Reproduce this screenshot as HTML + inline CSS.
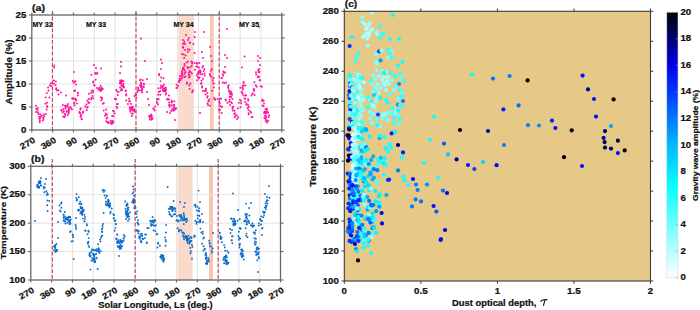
<!DOCTYPE html>
<html><head><meta charset="utf-8"><style>html,body{margin:0;padding:0;background:#fff;width:700px;height:310px;overflow:hidden}svg{display:block}</style></head>
<body><svg width="700" height="310" viewBox="0 0 700 310">
<rect width="700" height="310" fill="#fff"/>
<g font-family="Liberation Sans, sans-serif" font-weight="bold" fill="#111">
<rect x="178.5" y="15" width="15.300000000000011" height="115" fill="#f9dacb"/>
<rect x="210" y="15" width="3.6999999999999886" height="115" fill="#f5c6b0"/>
<line x1="52.63" y1="15.00" x2="52.63" y2="130.00" stroke="#e2e2e2" stroke-width="1" />
<line x1="73.47" y1="15.00" x2="73.47" y2="130.00" stroke="#e2e2e2" stroke-width="1" />
<line x1="94.30" y1="15.00" x2="94.30" y2="130.00" stroke="#e2e2e2" stroke-width="1" />
<line x1="115.13" y1="15.00" x2="115.13" y2="130.00" stroke="#e2e2e2" stroke-width="1" />
<line x1="135.97" y1="15.00" x2="135.97" y2="130.00" stroke="#e2e2e2" stroke-width="1" />
<line x1="156.80" y1="15.00" x2="156.80" y2="130.00" stroke="#e2e2e2" stroke-width="1" />
<line x1="177.63" y1="15.00" x2="177.63" y2="130.00" stroke="#e2e2e2" stroke-width="1" />
<line x1="198.47" y1="15.00" x2="198.47" y2="130.00" stroke="#e2e2e2" stroke-width="1" />
<line x1="219.30" y1="15.00" x2="219.30" y2="130.00" stroke="#e2e2e2" stroke-width="1" />
<line x1="240.13" y1="15.00" x2="240.13" y2="130.00" stroke="#e2e2e2" stroke-width="1" />
<line x1="260.97" y1="15.00" x2="260.97" y2="130.00" stroke="#e2e2e2" stroke-width="1" />
<line x1="31.80" y1="107.00" x2="281.80" y2="107.00" stroke="#e2e2e2" stroke-width="1" />
<line x1="31.80" y1="84.00" x2="281.80" y2="84.00" stroke="#e2e2e2" stroke-width="1" />
<line x1="31.80" y1="61.00" x2="281.80" y2="61.00" stroke="#e2e2e2" stroke-width="1" />
<line x1="31.80" y1="38.00" x2="281.80" y2="38.00" stroke="#e2e2e2" stroke-width="1" />
<g fill="#ff14a0"><circle cx="35.9" cy="105.8" r="1.0"/><circle cx="37.7" cy="108.0" r="1.0"/><circle cx="36.4" cy="108.8" r="1.0"/><circle cx="37.4" cy="109.9" r="1.0"/><circle cx="36.1" cy="112.0" r="1.0"/><circle cx="38.1" cy="112.2" r="1.0"/><circle cx="38.4" cy="114.1" r="1.0"/><circle cx="40.1" cy="114.3" r="1.0"/><circle cx="40.6" cy="116.6" r="1.0"/><circle cx="39.2" cy="116.8" r="1.0"/><circle cx="40.3" cy="118.1" r="1.0"/><circle cx="39.3" cy="118.7" r="1.0"/><circle cx="39.7" cy="122.2" r="1.0"/><circle cx="42.7" cy="120.6" r="1.0"/><circle cx="39.8" cy="120.4" r="1.0"/><circle cx="43.5" cy="118.9" r="1.0"/><circle cx="41.7" cy="115.6" r="1.0"/><circle cx="43.1" cy="117.6" r="1.0"/><circle cx="44.3" cy="116.2" r="1.0"/><circle cx="43.7" cy="114.5" r="1.0"/><circle cx="45.9" cy="114.0" r="1.0"/><circle cx="46.6" cy="109.5" r="1.0"/><circle cx="47.2" cy="107.1" r="1.0"/><circle cx="47.3" cy="105.9" r="1.0"/><circle cx="45.5" cy="103.7" r="1.0"/><circle cx="47.0" cy="102.7" r="1.0"/><circle cx="45.7" cy="97.5" r="1.0"/><circle cx="49.4" cy="97.5" r="1.0"/><circle cx="46.8" cy="93.0" r="1.0"/><circle cx="48.5" cy="90.4" r="1.0"/><circle cx="48.1" cy="87.6" r="1.0"/><circle cx="49.9" cy="85.4" r="1.0"/><circle cx="51.2" cy="86.0" r="1.0"/><circle cx="50.9" cy="83.2" r="1.0"/><circle cx="53.8" cy="80.5" r="1.0"/><circle cx="55.8" cy="81.5" r="1.0"/><circle cx="53.9" cy="83.7" r="1.0"/><circle cx="55.5" cy="85.3" r="1.0"/><circle cx="56.4" cy="88.3" r="1.0"/><circle cx="56.2" cy="89.3" r="1.0"/><circle cx="58.6" cy="90.3" r="1.0"/><circle cx="57.0" cy="90.5" r="1.0"/><circle cx="60.8" cy="92.5" r="1.0"/><circle cx="58.5" cy="94.4" r="1.0"/><circle cx="66.8" cy="110.9" r="1.0"/><circle cx="66.4" cy="105.8" r="1.0"/><circle cx="67.7" cy="115.1" r="1.0"/><circle cx="61.6" cy="110.7" r="1.0"/><circle cx="65.3" cy="115.0" r="1.0"/><circle cx="71.9" cy="109.3" r="1.0"/><circle cx="63.3" cy="116.4" r="1.0"/><circle cx="65.1" cy="105.7" r="1.0"/><circle cx="68.6" cy="110.9" r="1.0"/><circle cx="63.4" cy="109.3" r="1.0"/><circle cx="68.7" cy="107.9" r="1.0"/><circle cx="61.2" cy="110.0" r="1.0"/><circle cx="62.7" cy="112.4" r="1.0"/><circle cx="62.8" cy="105.1" r="1.0"/><circle cx="71.1" cy="108.0" r="1.0"/><circle cx="63.9" cy="111.2" r="1.0"/><circle cx="68.7" cy="113.2" r="1.0"/><circle cx="70.0" cy="107.0" r="1.0"/><circle cx="65.5" cy="108.5" r="1.0"/><circle cx="66.6" cy="111.7" r="1.0"/><circle cx="68.0" cy="104.0" r="1.0"/><circle cx="64.9" cy="113.8" r="1.0"/><circle cx="68.6" cy="109.1" r="1.0"/><circle cx="65.8" cy="107.0" r="1.0"/><circle cx="69.2" cy="110.3" r="1.0"/><circle cx="64.5" cy="117.0" r="1.0"/><circle cx="68.5" cy="112.5" r="1.0"/><circle cx="67.6" cy="105.9" r="1.0"/><circle cx="65.2" cy="105.8" r="1.0"/><circle cx="64.6" cy="116.7" r="1.0"/><circle cx="66.0" cy="95.6" r="1.0"/><circle cx="74.0" cy="72.0" r="1.0"/><circle cx="74.9" cy="81.8" r="1.0"/><circle cx="72.8" cy="81.1" r="1.0"/><circle cx="75.5" cy="81.3" r="1.0"/><circle cx="73.6" cy="82.7" r="1.0"/><circle cx="76.0" cy="84.4" r="1.0"/><circle cx="75.0" cy="90.6" r="1.0"/><circle cx="72.5" cy="98.2" r="1.0"/><circle cx="77.9" cy="95.6" r="1.0"/><circle cx="74.2" cy="91.0" r="1.0"/><circle cx="73.3" cy="99.1" r="1.0"/><circle cx="74.5" cy="105.3" r="1.0"/><circle cx="73.9" cy="103.4" r="1.0"/><circle cx="72.3" cy="98.4" r="1.0"/><circle cx="76.0" cy="100.4" r="1.0"/><circle cx="74.9" cy="98.4" r="1.0"/><circle cx="77.8" cy="92.7" r="1.0"/><circle cx="75.9" cy="99.3" r="1.0"/><circle cx="77.9" cy="92.9" r="1.0"/><circle cx="74.9" cy="90.8" r="1.0"/><circle cx="76.9" cy="103.6" r="1.0"/><circle cx="74.4" cy="102.8" r="1.0"/><circle cx="80.7" cy="108.6" r="1.0"/><circle cx="80.3" cy="109.5" r="1.0"/><circle cx="80.0" cy="113.0" r="1.0"/><circle cx="79.5" cy="112.9" r="1.0"/><circle cx="79.5" cy="112.0" r="1.0"/><circle cx="83.0" cy="112.7" r="1.0"/><circle cx="80.5" cy="116.5" r="1.0"/><circle cx="81.2" cy="114.6" r="1.0"/><circle cx="80.7" cy="116.4" r="1.0"/><circle cx="80.8" cy="116.1" r="1.0"/><circle cx="81.6" cy="118.8" r="1.0"/><circle cx="81.7" cy="118.9" r="1.0"/><circle cx="83.3" cy="111.5" r="1.0"/><circle cx="86.8" cy="110.2" r="1.0"/><circle cx="87.0" cy="107.7" r="1.0"/><circle cx="87.7" cy="107.1" r="1.0"/><circle cx="85.2" cy="106.4" r="1.0"/><circle cx="88.5" cy="102.6" r="1.0"/><circle cx="86.5" cy="104.6" r="1.0"/><circle cx="89.4" cy="102.7" r="1.0"/><circle cx="87.3" cy="100.6" r="1.0"/><circle cx="88.4" cy="102.4" r="1.0"/><circle cx="88.9" cy="99.0" r="1.0"/><circle cx="91.3" cy="99.2" r="1.0"/><circle cx="91.4" cy="98.1" r="1.0"/><circle cx="93.2" cy="98.2" r="1.0"/><circle cx="88.9" cy="93.8" r="1.0"/><circle cx="92.5" cy="96.0" r="1.0"/><circle cx="91.2" cy="93.1" r="1.0"/><circle cx="93.0" cy="92.2" r="1.0"/><circle cx="91.6" cy="90.6" r="1.0"/><circle cx="93.0" cy="90.7" r="1.0"/><circle cx="91.4" cy="74.7" r="1.0"/><circle cx="95.4" cy="73.1" r="1.0"/><circle cx="95.2" cy="73.7" r="1.0"/><circle cx="97.2" cy="73.3" r="1.0"/><circle cx="97.3" cy="73.3" r="1.0"/><circle cx="96.7" cy="73.7" r="1.0"/><circle cx="95.6" cy="79.7" r="1.0"/><circle cx="93.4" cy="81.5" r="1.0"/><circle cx="93.1" cy="82.6" r="1.0"/><circle cx="94.1" cy="85.2" r="1.0"/><circle cx="94.6" cy="85.5" r="1.0"/><circle cx="96.9" cy="88.1" r="1.0"/><circle cx="100.7" cy="86.1" r="1.0"/><circle cx="100.7" cy="90.7" r="1.0"/><circle cx="101.8" cy="88.0" r="1.0"/><circle cx="98.6" cy="89.7" r="1.0"/><circle cx="99.5" cy="87.7" r="1.0"/><circle cx="99.0" cy="88.4" r="1.0"/><circle cx="101.3" cy="88.4" r="1.0"/><circle cx="101.1" cy="90.4" r="1.0"/><circle cx="101.9" cy="89.4" r="1.0"/><circle cx="102.8" cy="89.0" r="1.0"/><circle cx="100.6" cy="89.9" r="1.0"/><circle cx="100.0" cy="90.2" r="1.0"/><circle cx="102.1" cy="97.9" r="1.0"/><circle cx="100.9" cy="97.3" r="1.0"/><circle cx="101.9" cy="98.9" r="1.0"/><circle cx="101.3" cy="100.3" r="1.0"/><circle cx="103.8" cy="102.9" r="1.0"/><circle cx="102.8" cy="103.8" r="1.0"/><circle cx="106.1" cy="109.4" r="1.0"/><circle cx="103.7" cy="110.6" r="1.0"/><circle cx="106.4" cy="114.5" r="1.0"/><circle cx="105.6" cy="113.5" r="1.0"/><circle cx="106.8" cy="114.7" r="1.0"/><circle cx="105.0" cy="115.7" r="1.0"/><circle cx="107.3" cy="117.6" r="1.0"/><circle cx="106.7" cy="118.6" r="1.0"/><circle cx="106.2" cy="121.2" r="1.0"/><circle cx="107.4" cy="122.1" r="1.0"/><circle cx="111.4" cy="123.7" r="1.0"/><circle cx="112.8" cy="121.2" r="1.0"/><circle cx="110.7" cy="120.8" r="1.0"/><circle cx="112.5" cy="121.5" r="1.0"/><circle cx="111.0" cy="122.4" r="1.0"/><circle cx="113.0" cy="122.7" r="1.0"/><circle cx="113.3" cy="121.8" r="1.0"/><circle cx="108.3" cy="123.1" r="1.0"/><circle cx="112.1" cy="123.2" r="1.0"/><circle cx="112.7" cy="121.2" r="1.0"/><circle cx="108.4" cy="122.9" r="1.0"/><circle cx="111.5" cy="122.9" r="1.0"/><circle cx="111.7" cy="123.8" r="1.0"/><circle cx="108.7" cy="122.2" r="1.0"/><circle cx="113.7" cy="116.2" r="1.0"/><circle cx="112.1" cy="116.0" r="1.0"/><circle cx="114.6" cy="113.6" r="1.0"/><circle cx="113.0" cy="110.8" r="1.0"/><circle cx="113.9" cy="111.4" r="1.0"/><circle cx="116.6" cy="106.7" r="1.0"/><circle cx="117.0" cy="108.1" r="1.0"/><circle cx="116.9" cy="103.9" r="1.0"/><circle cx="117.8" cy="104.1" r="1.0"/><circle cx="115.1" cy="99.3" r="1.0"/><circle cx="116.2" cy="99.3" r="1.0"/><circle cx="115.2" cy="98.6" r="1.0"/><circle cx="117.7" cy="95.1" r="1.0"/><circle cx="117.3" cy="91.6" r="1.0"/><circle cx="118.5" cy="91.9" r="1.0"/><circle cx="116.2" cy="90.1" r="1.0"/><circle cx="120.7" cy="90.2" r="1.0"/><circle cx="120.7" cy="81.5" r="1.0"/><circle cx="119.8" cy="83.0" r="1.0"/><circle cx="121.4" cy="85.6" r="1.0"/><circle cx="121.9" cy="80.6" r="1.0"/><circle cx="122.7" cy="85.7" r="1.0"/><circle cx="122.2" cy="90.2" r="1.0"/><circle cx="120.1" cy="87.4" r="1.0"/><circle cx="121.7" cy="83.4" r="1.0"/><circle cx="121.0" cy="81.4" r="1.0"/><circle cx="122.4" cy="81.0" r="1.0"/><circle cx="123.4" cy="81.2" r="1.0"/><circle cx="122.6" cy="86.0" r="1.0"/><circle cx="123.4" cy="83.9" r="1.0"/><circle cx="121.3" cy="80.5" r="1.0"/><circle cx="120.1" cy="80.6" r="1.0"/><circle cx="121.7" cy="88.7" r="1.0"/><circle cx="123.1" cy="86.6" r="1.0"/><circle cx="121.2" cy="82.3" r="1.0"/><circle cx="123.4" cy="87.1" r="1.0"/><circle cx="122.6" cy="85.7" r="1.0"/><circle cx="123.3" cy="86.1" r="1.0"/><circle cx="120.2" cy="83.5" r="1.0"/><circle cx="120.5" cy="82.5" r="1.0"/><circle cx="124.0" cy="87.5" r="1.0"/><circle cx="120.0" cy="73.0" r="1.0"/><circle cx="125.7" cy="90.6" r="1.0"/><circle cx="125.7" cy="91.0" r="1.0"/><circle cx="126.2" cy="94.3" r="1.0"/><circle cx="126.2" cy="95.6" r="1.0"/><circle cx="129.0" cy="98.7" r="1.0"/><circle cx="126.2" cy="100.4" r="1.0"/><circle cx="129.3" cy="101.5" r="1.0"/><circle cx="129.8" cy="101.0" r="1.0"/><circle cx="127.9" cy="104.1" r="1.0"/><circle cx="130.9" cy="103.8" r="1.0"/><circle cx="134.4" cy="109.3" r="1.0"/><circle cx="133.8" cy="109.7" r="1.0"/><circle cx="132.3" cy="108.9" r="1.0"/><circle cx="132.5" cy="106.7" r="1.0"/><circle cx="132.6" cy="107.5" r="1.0"/><circle cx="131.2" cy="107.2" r="1.0"/><circle cx="130.8" cy="108.1" r="1.0"/><circle cx="130.4" cy="111.7" r="1.0"/><circle cx="132.7" cy="113.5" r="1.0"/><circle cx="131.8" cy="116.0" r="1.0"/><circle cx="131.0" cy="108.0" r="1.0"/><circle cx="132.9" cy="110.4" r="1.0"/><circle cx="134.6" cy="110.8" r="1.0"/><circle cx="134.7" cy="111.8" r="1.0"/><circle cx="133.8" cy="110.5" r="1.0"/><circle cx="132.3" cy="107.3" r="1.0"/><circle cx="129.6" cy="107.6" r="1.0"/><circle cx="130.9" cy="110.0" r="1.0"/><circle cx="132.0" cy="113.7" r="1.0"/><circle cx="129.8" cy="109.4" r="1.0"/><circle cx="134.5" cy="96.0" r="1.0"/><circle cx="136.2" cy="97.6" r="1.0"/><circle cx="135.9" cy="94.7" r="1.0"/><circle cx="135.6" cy="94.1" r="1.0"/><circle cx="137.5" cy="92.0" r="1.0"/><circle cx="137.8" cy="90.6" r="1.0"/><circle cx="138.3" cy="89.1" r="1.0"/><circle cx="139.8" cy="90.6" r="1.0"/><circle cx="140.9" cy="87.3" r="1.0"/><circle cx="138.0" cy="87.6" r="1.0"/><circle cx="140.1" cy="85.6" r="1.0"/><circle cx="141.2" cy="85.3" r="1.0"/><circle cx="141.1" cy="82.8" r="1.0"/><circle cx="140.1" cy="80.2" r="1.0"/><circle cx="140.6" cy="79.4" r="1.0"/><circle cx="141.9" cy="90.7" r="1.0"/><circle cx="141.9" cy="86.7" r="1.0"/><circle cx="141.0" cy="83.5" r="1.0"/><circle cx="142.3" cy="89.2" r="1.0"/><circle cx="142.8" cy="80.2" r="1.0"/><circle cx="141.0" cy="83.5" r="1.0"/><circle cx="144.1" cy="83.9" r="1.0"/><circle cx="143.5" cy="86.4" r="1.0"/><circle cx="143.6" cy="83.7" r="1.0"/><circle cx="142.2" cy="92.4" r="1.0"/><circle cx="143.8" cy="87.0" r="1.0"/><circle cx="142.0" cy="88.6" r="1.0"/><circle cx="140.9" cy="83.9" r="1.0"/><circle cx="141.3" cy="90.5" r="1.0"/><circle cx="147.0" cy="79.0" r="1.0"/><circle cx="147.0" cy="92.0" r="1.0"/><circle cx="148.0" cy="99.0" r="1.0"/><circle cx="149.0" cy="105.0" r="1.0"/><circle cx="149.1" cy="116.1" r="1.0"/><circle cx="151.7" cy="116.6" r="1.0"/><circle cx="151.7" cy="118.0" r="1.0"/><circle cx="149.6" cy="117.5" r="1.0"/><circle cx="151.5" cy="115.2" r="1.0"/><circle cx="149.8" cy="119.2" r="1.0"/><circle cx="150.3" cy="116.0" r="1.0"/><circle cx="152.3" cy="118.8" r="1.0"/><circle cx="151.3" cy="115.4" r="1.0"/><circle cx="152.4" cy="118.4" r="1.0"/><circle cx="150.9" cy="114.8" r="1.0"/><circle cx="151.1" cy="119.7" r="1.0"/><circle cx="154.7" cy="110.6" r="1.0"/><circle cx="153.3" cy="108.4" r="1.0"/><circle cx="153.9" cy="109.0" r="1.0"/><circle cx="155.1" cy="106.5" r="1.0"/><circle cx="158.0" cy="104.6" r="1.0"/><circle cx="157.3" cy="103.2" r="1.0"/><circle cx="156.8" cy="102.0" r="1.0"/><circle cx="157.6" cy="99.4" r="1.0"/><circle cx="158.6" cy="99.3" r="1.0"/><circle cx="156.9" cy="99.0" r="1.0"/><circle cx="160.3" cy="94.7" r="1.0"/><circle cx="158.1" cy="94.7" r="1.0"/><circle cx="158.9" cy="92.1" r="1.0"/><circle cx="160.1" cy="91.0" r="1.0"/><circle cx="158.5" cy="88.3" r="1.0"/><circle cx="160.6" cy="87.9" r="1.0"/><circle cx="161.0" cy="85.8" r="1.0"/><circle cx="160.5" cy="81.2" r="1.0"/><circle cx="158.9" cy="75.3" r="1.0"/><circle cx="159.2" cy="73.9" r="1.0"/><circle cx="161.2" cy="77.5" r="1.0"/><circle cx="163.4" cy="78.3" r="1.0"/><circle cx="163.8" cy="84.6" r="1.0"/><circle cx="164.9" cy="90.8" r="1.0"/><circle cx="164.1" cy="88.5" r="1.0"/><circle cx="162.0" cy="86.7" r="1.0"/><circle cx="164.4" cy="90.2" r="1.0"/><circle cx="163.2" cy="90.4" r="1.0"/><circle cx="164.4" cy="88.4" r="1.0"/><circle cx="162.6" cy="89.4" r="1.0"/><circle cx="162.3" cy="87.4" r="1.0"/><circle cx="165.9" cy="87.8" r="1.0"/><circle cx="163.3" cy="86.0" r="1.0"/><circle cx="166.0" cy="89.5" r="1.0"/><circle cx="166.0" cy="89.7" r="1.0"/><circle cx="163.7" cy="91.0" r="1.0"/><circle cx="163.6" cy="91.3" r="1.0"/><circle cx="165.4" cy="91.1" r="1.0"/><circle cx="164.0" cy="91.2" r="1.0"/><circle cx="165.4" cy="91.2" r="1.0"/><circle cx="166.1" cy="93.2" r="1.0"/><circle cx="165.8" cy="94.4" r="1.0"/><circle cx="169.0" cy="95.4" r="1.0"/><circle cx="169.0" cy="99.4" r="1.0"/><circle cx="167.0" cy="99.5" r="1.0"/><circle cx="167.9" cy="98.8" r="1.0"/><circle cx="169.1" cy="102.6" r="1.0"/><circle cx="171.6" cy="100.8" r="1.0"/><circle cx="171.8" cy="101.9" r="1.0"/><circle cx="173.5" cy="105.1" r="1.0"/><circle cx="174.4" cy="110.0" r="1.0"/><circle cx="173.5" cy="110.8" r="1.0"/><circle cx="173.1" cy="108.2" r="1.0"/><circle cx="175.8" cy="108.6" r="1.0"/><circle cx="174.2" cy="107.1" r="1.0"/><circle cx="174.2" cy="104.9" r="1.0"/><circle cx="174.3" cy="109.8" r="1.0"/><circle cx="175.9" cy="108.4" r="1.0"/><circle cx="174.4" cy="101.2" r="1.0"/><circle cx="171.6" cy="105.5" r="1.0"/><circle cx="171.5" cy="102.6" r="1.0"/><circle cx="172.0" cy="109.7" r="1.0"/><circle cx="171.1" cy="110.9" r="1.0"/><circle cx="169.1" cy="105.1" r="1.0"/><circle cx="174.8" cy="108.9" r="1.0"/><circle cx="169.6" cy="106.7" r="1.0"/><circle cx="169.8" cy="104.8" r="1.0"/><circle cx="167.0" cy="112.0" r="1.0"/><circle cx="170.0" cy="113.0" r="1.0"/><circle cx="175.0" cy="120.0" r="1.0"/><circle cx="176.4" cy="87.9" r="1.0"/><circle cx="177.0" cy="87.8" r="1.0"/><circle cx="178.1" cy="86.1" r="1.0"/><circle cx="176.6" cy="84.7" r="1.0"/><circle cx="179.2" cy="82.2" r="1.0"/><circle cx="178.9" cy="80.9" r="1.0"/><circle cx="180.5" cy="80.2" r="1.0"/><circle cx="179.6" cy="78.5" r="1.0"/><circle cx="180.0" cy="79.7" r="1.0"/><circle cx="181.7" cy="78.4" r="1.0"/><circle cx="181.9" cy="74.2" r="1.0"/><circle cx="181.9" cy="73.0" r="1.0"/><circle cx="189.0" cy="74.9" r="1.0"/><circle cx="189.3" cy="70.7" r="1.0"/><circle cx="182.3" cy="72.2" r="1.0"/><circle cx="188.6" cy="73.1" r="1.0"/><circle cx="184.4" cy="74.0" r="1.0"/><circle cx="189.5" cy="76.7" r="1.0"/><circle cx="190.8" cy="72.3" r="1.0"/><circle cx="180.6" cy="76.0" r="1.0"/><circle cx="180.2" cy="76.1" r="1.0"/><circle cx="182.5" cy="75.2" r="1.0"/><circle cx="189.6" cy="75.2" r="1.0"/><circle cx="184.4" cy="77.3" r="1.0"/><circle cx="185.5" cy="72.1" r="1.0"/><circle cx="185.6" cy="76.6" r="1.0"/><circle cx="181.9" cy="71.0" r="1.0"/><circle cx="191.9" cy="73.4" r="1.0"/><circle cx="185.2" cy="72.5" r="1.0"/><circle cx="182.4" cy="76.9" r="1.0"/><circle cx="190.2" cy="72.0" r="1.0"/><circle cx="189.1" cy="77.4" r="1.0"/><circle cx="187.1" cy="82.6" r="1.0"/><circle cx="186.8" cy="83.8" r="1.0"/><circle cx="190.5" cy="83.5" r="1.0"/><circle cx="189.3" cy="85.3" r="1.0"/><circle cx="189.6" cy="89.0" r="1.0"/><circle cx="192.5" cy="90.7" r="1.0"/><circle cx="193.2" cy="90.5" r="1.0"/><circle cx="192.1" cy="92.3" r="1.0"/><circle cx="200.3" cy="73.9" r="1.0"/><circle cx="198.1" cy="74.0" r="1.0"/><circle cx="200.8" cy="72.0" r="1.0"/><circle cx="197.0" cy="80.2" r="1.0"/><circle cx="202.2" cy="74.3" r="1.0"/><circle cx="197.8" cy="77.0" r="1.0"/><circle cx="199.5" cy="77.6" r="1.0"/><circle cx="198.8" cy="78.5" r="1.0"/><circle cx="200.2" cy="70.3" r="1.0"/><circle cx="201.5" cy="80.5" r="1.0"/><circle cx="199.9" cy="71.9" r="1.0"/><circle cx="198.3" cy="72.3" r="1.0"/><circle cx="203.0" cy="78.8" r="1.0"/><circle cx="198.2" cy="73.6" r="1.0"/><circle cx="196.7" cy="75.3" r="1.0"/><circle cx="201.0" cy="83.7" r="1.0"/><circle cx="201.5" cy="82.9" r="1.0"/><circle cx="202.0" cy="87.5" r="1.0"/><circle cx="202.2" cy="86.3" r="1.0"/><circle cx="203.0" cy="90.9" r="1.0"/><circle cx="200.0" cy="113.0" r="1.0"/><circle cx="206.0" cy="88.7" r="1.0"/><circle cx="205.0" cy="91.3" r="1.0"/><circle cx="206.2" cy="90.6" r="1.0"/><circle cx="204.7" cy="90.8" r="1.0"/><circle cx="207.3" cy="93.0" r="1.0"/><circle cx="205.6" cy="94.4" r="1.0"/><circle cx="207.2" cy="97.6" r="1.0"/><circle cx="207.6" cy="96.3" r="1.0"/><circle cx="209.2" cy="99.6" r="1.0"/><circle cx="208.6" cy="101.6" r="1.0"/><circle cx="208.4" cy="101.1" r="1.0"/><circle cx="207.5" cy="103.5" r="1.0"/><circle cx="209.9" cy="105.7" r="1.0"/><circle cx="208.0" cy="105.0" r="1.0"/><circle cx="210.9" cy="70.7" r="1.0"/><circle cx="209.8" cy="74.1" r="1.0"/><circle cx="210.1" cy="75.5" r="1.0"/><circle cx="211.4" cy="76.7" r="1.0"/><circle cx="213.6" cy="77.9" r="1.0"/><circle cx="212.7" cy="80.2" r="1.0"/><circle cx="213.3" cy="83.2" r="1.0"/><circle cx="213.9" cy="83.5" r="1.0"/><circle cx="214.0" cy="87.6" r="1.0"/><circle cx="212.3" cy="90.7" r="1.0"/><circle cx="214.4" cy="98.1" r="1.0"/><circle cx="214.5" cy="99.0" r="1.0"/><circle cx="215.3" cy="99.8" r="1.0"/><circle cx="220.0" cy="98.5" r="1.0"/><circle cx="217.7" cy="98.9" r="1.0"/><circle cx="221.2" cy="98.7" r="1.0"/><circle cx="219.9" cy="103.0" r="1.0"/><circle cx="219.0" cy="102.2" r="1.0"/><circle cx="220.9" cy="105.9" r="1.0"/><circle cx="221.9" cy="106.9" r="1.0"/><circle cx="218.9" cy="109.2" r="1.0"/><circle cx="219.9" cy="109.8" r="1.0"/><circle cx="221.7" cy="112.9" r="1.0"/><circle cx="221.4" cy="78.1" r="1.0"/><circle cx="221.8" cy="78.3" r="1.0"/><circle cx="223.2" cy="75.8" r="1.0"/><circle cx="222.9" cy="74.0" r="1.0"/><circle cx="225.0" cy="72.7" r="1.0"/><circle cx="223.9" cy="72.0" r="1.0"/><circle cx="223.4" cy="71.5" r="1.0"/><circle cx="222.8" cy="82.5" r="1.0"/><circle cx="226.1" cy="82.5" r="1.0"/><circle cx="224.3" cy="82.9" r="1.0"/><circle cx="228.0" cy="86.5" r="1.0"/><circle cx="228.7" cy="85.2" r="1.0"/><circle cx="228.3" cy="88.1" r="1.0"/><circle cx="229.3" cy="101.7" r="1.0"/><circle cx="229.7" cy="99.8" r="1.0"/><circle cx="229.7" cy="97.1" r="1.0"/><circle cx="228.8" cy="91.3" r="1.0"/><circle cx="229.8" cy="93.0" r="1.0"/><circle cx="230.5" cy="96.5" r="1.0"/><circle cx="230.3" cy="94.2" r="1.0"/><circle cx="226.0" cy="100.6" r="1.0"/><circle cx="231.6" cy="93.4" r="1.0"/><circle cx="231.0" cy="102.3" r="1.0"/><circle cx="231.3" cy="96.7" r="1.0"/><circle cx="232.3" cy="99.0" r="1.0"/><circle cx="225.5" cy="99.4" r="1.0"/><circle cx="229.0" cy="90.3" r="1.0"/><circle cx="227.5" cy="103.1" r="1.0"/><circle cx="230.0" cy="104.9" r="1.0"/><circle cx="231.0" cy="93.0" r="1.0"/><circle cx="232.0" cy="94.7" r="1.0"/><circle cx="230.9" cy="91.6" r="1.0"/><circle cx="231.9" cy="103.1" r="1.0"/><circle cx="233.2" cy="106.8" r="1.0"/><circle cx="232.5" cy="107.3" r="1.0"/><circle cx="232.6" cy="108.5" r="1.0"/><circle cx="232.9" cy="110.6" r="1.0"/><circle cx="234.5" cy="110.7" r="1.0"/><circle cx="234.3" cy="114.0" r="1.0"/><circle cx="236.8" cy="115.3" r="1.0"/><circle cx="235.0" cy="113.2" r="1.0"/><circle cx="234.6" cy="117.2" r="1.0"/><circle cx="235.6" cy="115.8" r="1.0"/><circle cx="238.1" cy="117.3" r="1.0"/><circle cx="237.1" cy="119.1" r="1.0"/><circle cx="237.9" cy="108.5" r="1.0"/><circle cx="240.5" cy="107.2" r="1.0"/><circle cx="241.1" cy="103.3" r="1.0"/><circle cx="238.8" cy="102.8" r="1.0"/><circle cx="241.0" cy="100.7" r="1.0"/><circle cx="240.0" cy="100.1" r="1.0"/><circle cx="242.5" cy="88.2" r="1.0"/><circle cx="240.4" cy="87.7" r="1.0"/><circle cx="242.6" cy="87.0" r="1.0"/><circle cx="243.6" cy="85.6" r="1.0"/><circle cx="242.8" cy="85.8" r="1.0"/><circle cx="245.3" cy="85.5" r="1.0"/><circle cx="243.5" cy="82.1" r="1.0"/><circle cx="243.6" cy="83.0" r="1.0"/><circle cx="243.0" cy="89.6" r="1.0"/><circle cx="241.7" cy="91.7" r="1.0"/><circle cx="242.2" cy="92.7" r="1.0"/><circle cx="242.6" cy="93.8" r="1.0"/><circle cx="245.4" cy="95.5" r="1.0"/><circle cx="246.0" cy="95.2" r="1.0"/><circle cx="243.6" cy="95.4" r="1.0"/><circle cx="244.5" cy="98.5" r="1.0"/><circle cx="245.1" cy="98.7" r="1.0"/><circle cx="248.2" cy="99.2" r="1.0"/><circle cx="245.2" cy="102.0" r="1.0"/><circle cx="248.3" cy="100.4" r="1.0"/><circle cx="248.1" cy="104.9" r="1.0"/><circle cx="246.5" cy="104.0" r="1.0"/><circle cx="246.5" cy="104.8" r="1.0"/><circle cx="248.9" cy="106.9" r="1.0"/><circle cx="247.6" cy="107.9" r="1.0"/><circle cx="250.1" cy="111.4" r="1.0"/><circle cx="248.4" cy="110.1" r="1.0"/><circle cx="248.6" cy="113.2" r="1.0"/><circle cx="251.2" cy="112.4" r="1.0"/><circle cx="248.7" cy="114.2" r="1.0"/><circle cx="251.7" cy="117.3" r="1.0"/><circle cx="252.4" cy="117.1" r="1.0"/><circle cx="251.5" cy="95.6" r="1.0"/><circle cx="254.6" cy="95.1" r="1.0"/><circle cx="252.6" cy="93.2" r="1.0"/><circle cx="252.6" cy="93.9" r="1.0"/><circle cx="254.1" cy="90.8" r="1.0"/><circle cx="253.6" cy="89.3" r="1.0"/><circle cx="254.1" cy="89.2" r="1.0"/><circle cx="256.6" cy="86.8" r="1.0"/><circle cx="255.8" cy="85.2" r="1.0"/><circle cx="254.4" cy="82.3" r="1.0"/><circle cx="257.6" cy="76.7" r="1.0"/><circle cx="256.1" cy="74.5" r="1.0"/><circle cx="256.0" cy="72.3" r="1.0"/><circle cx="259.4" cy="72.2" r="1.0"/><circle cx="259.3" cy="71.5" r="1.0"/><circle cx="258.6" cy="72.0" r="1.0"/><circle cx="258.1" cy="70.3" r="1.0"/><circle cx="258.8" cy="76.4" r="1.0"/><circle cx="258.7" cy="77.3" r="1.0"/><circle cx="259.9" cy="79.9" r="1.0"/><circle cx="259.7" cy="80.5" r="1.0"/><circle cx="260.6" cy="86.2" r="1.0"/><circle cx="262.0" cy="86.7" r="1.0"/><circle cx="262.4" cy="99.6" r="1.0"/><circle cx="262.2" cy="101.0" r="1.0"/><circle cx="263.7" cy="100.7" r="1.0"/><circle cx="264.0" cy="103.4" r="1.0"/><circle cx="262.5" cy="105.5" r="1.0"/><circle cx="263.5" cy="106.0" r="1.0"/><circle cx="265.5" cy="109.3" r="1.0"/><circle cx="264.7" cy="111.6" r="1.0"/><circle cx="266.8" cy="112.1" r="1.0"/><circle cx="265.8" cy="115.7" r="1.0"/><circle cx="265.2" cy="115.8" r="1.0"/><circle cx="266.2" cy="117.2" r="1.0"/><circle cx="266.8" cy="120.5" r="1.0"/><circle cx="268.2" cy="120.8" r="1.0"/><circle cx="265.7" cy="119.3" r="1.0"/><circle cx="268.2" cy="112.4" r="1.0"/><circle cx="266.7" cy="112.1" r="1.0"/><circle cx="267.1" cy="111.5" r="1.0"/><circle cx="264.4" cy="112.3" r="1.0"/><circle cx="264.5" cy="112.8" r="1.0"/><circle cx="266.0" cy="112.9" r="1.0"/><circle cx="265.6" cy="121.3" r="1.0"/><circle cx="266.9" cy="108.8" r="1.0"/><circle cx="266.8" cy="109.8" r="1.0"/><circle cx="267.2" cy="122.4" r="1.0"/><circle cx="266.7" cy="113.3" r="1.0"/><circle cx="265.4" cy="112.1" r="1.0"/><circle cx="268.6" cy="116.9" r="1.0"/><circle cx="269.2" cy="115.3" r="1.0"/><circle cx="264.4" cy="118.0" r="1.0"/><circle cx="264.4" cy="113.5" r="1.0"/><circle cx="264.8" cy="117.5" r="1.0"/><circle cx="195.0" cy="32.0" r="1.0"/><circle cx="204.0" cy="32.0" r="1.0"/><circle cx="194.6" cy="37.0" r="1.0"/><circle cx="227.0" cy="29.0" r="1.0"/><circle cx="259.0" cy="27.0" r="1.0"/><circle cx="186.0" cy="35.0" r="1.0"/><circle cx="183.0" cy="40.0" r="1.0"/><circle cx="188.0" cy="40.0" r="1.0"/><circle cx="184.0" cy="43.0" r="1.0"/><circle cx="183.0" cy="47.0" r="1.0"/><circle cx="185.0" cy="50.0" r="1.0"/><circle cx="188.0" cy="52.0" r="1.0"/><circle cx="182.0" cy="54.0" r="1.0"/><circle cx="193.4" cy="44.0" r="1.0"/><circle cx="194.6" cy="53.0" r="1.0"/><circle cx="202.0" cy="52.0" r="1.0"/><circle cx="210.0" cy="47.0" r="1.0"/><circle cx="211.0" cy="56.0" r="1.0"/><circle cx="225.0" cy="55.0" r="1.0"/><circle cx="227.0" cy="58.0" r="1.0"/><circle cx="244.6" cy="56.6" r="1.0"/><circle cx="258.0" cy="56.0" r="1.0"/><circle cx="260.0" cy="58.0" r="1.0"/><circle cx="161.0" cy="59.4" r="1.0"/><circle cx="162.0" cy="63.0" r="1.0"/><circle cx="161.0" cy="69.0" r="1.0"/><circle cx="145.0" cy="61.0" r="1.0"/><circle cx="203.0" cy="58.0" r="1.0"/><circle cx="203.0" cy="66.0" r="1.0"/><circle cx="212.0" cy="61.0" r="1.0"/><circle cx="212.0" cy="69.0" r="1.0"/><circle cx="225.0" cy="67.0" r="1.0"/><circle cx="242.0" cy="67.4" r="1.0"/><circle cx="258.0" cy="61.0" r="1.0"/><circle cx="260.0" cy="65.0" r="1.0"/><circle cx="259.0" cy="69.0" r="1.0"/><circle cx="195.0" cy="69.7" r="1.0"/><circle cx="187.4" cy="66.9" r="1.0"/><circle cx="191.8" cy="66.1" r="1.0"/><circle cx="190.4" cy="67.2" r="1.0"/><circle cx="191.3" cy="61.5" r="1.0"/><circle cx="197.1" cy="63.7" r="1.0"/><circle cx="184.5" cy="64.0" r="1.0"/><circle cx="197.4" cy="66.7" r="1.0"/><circle cx="199.1" cy="67.4" r="1.0"/><circle cx="184.6" cy="69.9" r="1.0"/><circle cx="196.3" cy="66.4" r="1.0"/><circle cx="192.2" cy="63.6" r="1.0"/><circle cx="187.9" cy="68.1" r="1.0"/><circle cx="183.3" cy="69.5" r="1.0"/><circle cx="196.7" cy="62.9" r="1.0"/><circle cx="183.2" cy="69.5" r="1.0"/><circle cx="187.9" cy="67.6" r="1.0"/><circle cx="186.6" cy="62.6" r="1.0"/><circle cx="184.5" cy="65.7" r="1.0"/><circle cx="183.6" cy="67.9" r="1.0"/><circle cx="183.1" cy="67.7" r="1.0"/><circle cx="187.9" cy="61.5" r="1.0"/><circle cx="183.0" cy="68.5" r="1.0"/><circle cx="194.6" cy="63.3" r="1.0"/><circle cx="192.2" cy="62.1" r="1.0"/><circle cx="141.0" cy="38.4" r="1.0"/><circle cx="54.4" cy="65.4" r="1.0"/><circle cx="54.0" cy="67.4" r="1.0"/><circle cx="94.0" cy="65.0" r="1.0"/><circle cx="96.0" cy="68.0" r="1.0"/><circle cx="101.0" cy="68.6" r="1.0"/><circle cx="121.0" cy="62.0" r="1.0"/><circle cx="121.0" cy="66.6" r="1.0"/><circle cx="185.7" cy="55.6" r="1.0"/><circle cx="182.9" cy="47.2" r="1.0"/><circle cx="190.0" cy="42.4" r="1.0"/><circle cx="188.8" cy="37.9" r="1.0"/><circle cx="183.7" cy="54.6" r="1.0"/><circle cx="189.7" cy="43.0" r="1.0"/><circle cx="185.1" cy="44.0" r="1.0"/><circle cx="182.9" cy="43.9" r="1.0"/><circle cx="189.4" cy="49.8" r="1.0"/><circle cx="189.4" cy="49.7" r="1.0"/><circle cx="187.8" cy="49.3" r="1.0"/><circle cx="183.1" cy="47.8" r="1.0"/><circle cx="184.4" cy="41.5" r="1.0"/><circle cx="184.2" cy="58.1" r="1.0"/><circle cx="204.6" cy="75.4" r="1.0"/><circle cx="199.5" cy="63.0" r="1.0"/><circle cx="197.4" cy="63.3" r="1.0"/><circle cx="204.5" cy="73.5" r="1.0"/><circle cx="202.4" cy="67.4" r="1.0"/><circle cx="198.8" cy="71.2" r="1.0"/><circle cx="203.7" cy="70.9" r="1.0"/><circle cx="204.4" cy="68.9" r="1.0"/></g>
<line x1="52.40" y1="11.00" x2="52.40" y2="130.00" stroke="#c8365a" stroke-width="1.1" stroke-dasharray="3.8 2"/>
<line x1="136.00" y1="11.00" x2="136.00" y2="130.00" stroke="#c8365a" stroke-width="1.1" stroke-dasharray="3.8 2"/>
<line x1="219.20" y1="11.00" x2="219.20" y2="130.00" stroke="#c8365a" stroke-width="1.1" stroke-dasharray="3.8 2"/>
<rect x="31.8" y="15" width="250.0" height="115" fill="none" stroke="#666666" stroke-width="1.3"/>
<line x1="31.80" y1="130.00" x2="31.80" y2="132.50" stroke="#666666" stroke-width="1.1" />
<line x1="31.80" y1="15.00" x2="31.80" y2="12.50" stroke="#666666" stroke-width="1.1" />
<line x1="52.63" y1="130.00" x2="52.63" y2="132.50" stroke="#666666" stroke-width="1.1" />
<line x1="52.63" y1="15.00" x2="52.63" y2="12.50" stroke="#666666" stroke-width="1.1" />
<line x1="73.47" y1="130.00" x2="73.47" y2="132.50" stroke="#666666" stroke-width="1.1" />
<line x1="73.47" y1="15.00" x2="73.47" y2="12.50" stroke="#666666" stroke-width="1.1" />
<line x1="94.30" y1="130.00" x2="94.30" y2="132.50" stroke="#666666" stroke-width="1.1" />
<line x1="94.30" y1="15.00" x2="94.30" y2="12.50" stroke="#666666" stroke-width="1.1" />
<line x1="115.13" y1="130.00" x2="115.13" y2="132.50" stroke="#666666" stroke-width="1.1" />
<line x1="115.13" y1="15.00" x2="115.13" y2="12.50" stroke="#666666" stroke-width="1.1" />
<line x1="135.97" y1="130.00" x2="135.97" y2="132.50" stroke="#666666" stroke-width="1.1" />
<line x1="135.97" y1="15.00" x2="135.97" y2="12.50" stroke="#666666" stroke-width="1.1" />
<line x1="156.80" y1="130.00" x2="156.80" y2="132.50" stroke="#666666" stroke-width="1.1" />
<line x1="156.80" y1="15.00" x2="156.80" y2="12.50" stroke="#666666" stroke-width="1.1" />
<line x1="177.63" y1="130.00" x2="177.63" y2="132.50" stroke="#666666" stroke-width="1.1" />
<line x1="177.63" y1="15.00" x2="177.63" y2="12.50" stroke="#666666" stroke-width="1.1" />
<line x1="198.47" y1="130.00" x2="198.47" y2="132.50" stroke="#666666" stroke-width="1.1" />
<line x1="198.47" y1="15.00" x2="198.47" y2="12.50" stroke="#666666" stroke-width="1.1" />
<line x1="219.30" y1="130.00" x2="219.30" y2="132.50" stroke="#666666" stroke-width="1.1" />
<line x1="219.30" y1="15.00" x2="219.30" y2="12.50" stroke="#666666" stroke-width="1.1" />
<line x1="240.13" y1="130.00" x2="240.13" y2="132.50" stroke="#666666" stroke-width="1.1" />
<line x1="240.13" y1="15.00" x2="240.13" y2="12.50" stroke="#666666" stroke-width="1.1" />
<line x1="260.97" y1="130.00" x2="260.97" y2="132.50" stroke="#666666" stroke-width="1.1" />
<line x1="260.97" y1="15.00" x2="260.97" y2="12.50" stroke="#666666" stroke-width="1.1" />
<line x1="281.80" y1="130.00" x2="281.80" y2="132.50" stroke="#666666" stroke-width="1.1" />
<line x1="281.80" y1="15.00" x2="281.80" y2="12.50" stroke="#666666" stroke-width="1.1" />
<line x1="28.80" y1="130.00" x2="31.80" y2="130.00" stroke="#666666" stroke-width="1.1" />
<line x1="281.80" y1="130.00" x2="284.80" y2="130.00" stroke="#666666" stroke-width="1.1" />
<line x1="28.80" y1="107.00" x2="31.80" y2="107.00" stroke="#666666" stroke-width="1.1" />
<line x1="281.80" y1="107.00" x2="284.80" y2="107.00" stroke="#666666" stroke-width="1.1" />
<line x1="28.80" y1="84.00" x2="31.80" y2="84.00" stroke="#666666" stroke-width="1.1" />
<line x1="281.80" y1="84.00" x2="284.80" y2="84.00" stroke="#666666" stroke-width="1.1" />
<line x1="28.80" y1="61.00" x2="31.80" y2="61.00" stroke="#666666" stroke-width="1.1" />
<line x1="281.80" y1="61.00" x2="284.80" y2="61.00" stroke="#666666" stroke-width="1.1" />
<line x1="28.80" y1="38.00" x2="31.80" y2="38.00" stroke="#666666" stroke-width="1.1" />
<line x1="281.80" y1="38.00" x2="284.80" y2="38.00" stroke="#666666" stroke-width="1.1" />
<line x1="28.80" y1="15.00" x2="31.80" y2="15.00" stroke="#666666" stroke-width="1.1" />
<line x1="281.80" y1="15.00" x2="284.80" y2="15.00" stroke="#666666" stroke-width="1.1" />
<text x="26.30" y="132.60" font-size="8.6" text-anchor="end" stroke="#111" stroke-width="0.22" textLength="5.36" lengthAdjust="spacingAndGlyphs" >0</text>
<text x="26.30" y="109.60" font-size="8.6" text-anchor="end" stroke="#111" stroke-width="0.22" textLength="5.36" lengthAdjust="spacingAndGlyphs" >5</text>
<text x="26.30" y="86.60" font-size="8.6" text-anchor="end" stroke="#111" stroke-width="0.22" textLength="10.72" lengthAdjust="spacingAndGlyphs" >10</text>
<text x="26.30" y="63.60" font-size="8.6" text-anchor="end" stroke="#111" stroke-width="0.22" textLength="10.72" lengthAdjust="spacingAndGlyphs" >15</text>
<text x="26.30" y="40.60" font-size="8.6" text-anchor="end" stroke="#111" stroke-width="0.22" textLength="10.72" lengthAdjust="spacingAndGlyphs" >20</text>
<text x="26.30" y="17.60" font-size="8.6" text-anchor="end" stroke="#111" stroke-width="0.22" textLength="10.72" lengthAdjust="spacingAndGlyphs" >25</text>
<text x="36.00" y="141.80" font-size="8.6" text-anchor="end" stroke="#111" stroke-width="0.22" textLength="16.07" lengthAdjust="spacingAndGlyphs" transform="rotate(-30 36.00 141.80)" >270</text>
<text x="56.83" y="141.80" font-size="8.6" text-anchor="end" stroke="#111" stroke-width="0.22" textLength="16.07" lengthAdjust="spacingAndGlyphs" transform="rotate(-30 56.83 141.80)" >360</text>
<text x="77.67" y="141.80" font-size="8.6" text-anchor="end" stroke="#111" stroke-width="0.22" textLength="10.72" lengthAdjust="spacingAndGlyphs" transform="rotate(-30 77.67 141.80)" >90</text>
<text x="98.50" y="141.80" font-size="8.6" text-anchor="end" stroke="#111" stroke-width="0.22" textLength="16.07" lengthAdjust="spacingAndGlyphs" transform="rotate(-30 98.50 141.80)" >180</text>
<text x="119.33" y="141.80" font-size="8.6" text-anchor="end" stroke="#111" stroke-width="0.22" textLength="16.07" lengthAdjust="spacingAndGlyphs" transform="rotate(-30 119.33 141.80)" >270</text>
<text x="140.17" y="141.80" font-size="8.6" text-anchor="end" stroke="#111" stroke-width="0.22" textLength="16.07" lengthAdjust="spacingAndGlyphs" transform="rotate(-30 140.17 141.80)" >360</text>
<text x="161.00" y="141.80" font-size="8.6" text-anchor="end" stroke="#111" stroke-width="0.22" textLength="10.72" lengthAdjust="spacingAndGlyphs" transform="rotate(-30 161.00 141.80)" >90</text>
<text x="181.83" y="141.80" font-size="8.6" text-anchor="end" stroke="#111" stroke-width="0.22" textLength="16.07" lengthAdjust="spacingAndGlyphs" transform="rotate(-30 181.83 141.80)" >180</text>
<text x="202.67" y="141.80" font-size="8.6" text-anchor="end" stroke="#111" stroke-width="0.22" textLength="16.07" lengthAdjust="spacingAndGlyphs" transform="rotate(-30 202.67 141.80)" >270</text>
<text x="223.50" y="141.80" font-size="8.6" text-anchor="end" stroke="#111" stroke-width="0.22" textLength="16.07" lengthAdjust="spacingAndGlyphs" transform="rotate(-30 223.50 141.80)" >360</text>
<text x="244.33" y="141.80" font-size="8.6" text-anchor="end" stroke="#111" stroke-width="0.22" textLength="10.72" lengthAdjust="spacingAndGlyphs" transform="rotate(-30 244.33 141.80)" >90</text>
<text x="265.17" y="141.80" font-size="8.6" text-anchor="end" stroke="#111" stroke-width="0.22" textLength="16.07" lengthAdjust="spacingAndGlyphs" transform="rotate(-30 265.17 141.80)" >180</text>
<text x="286.00" y="141.80" font-size="8.6" text-anchor="end" stroke="#111" stroke-width="0.22" textLength="16.07" lengthAdjust="spacingAndGlyphs" transform="rotate(-30 286.00 141.80)" >270</text>
<text x="38.50" y="10.90" font-size="8.2" text-anchor="middle" stroke="#111" stroke-width="0.22" textLength="13.03" lengthAdjust="spacingAndGlyphs" >(a)</text>
<rect x="177.6" y="166.3" width="15.0" height="113.69999999999999" fill="#f9dacb"/>
<rect x="209" y="166.3" width="4" height="113.69999999999999" fill="#f5c6b0"/>
<line x1="51.61" y1="166.30" x2="51.61" y2="280.00" stroke="#e2e2e2" stroke-width="1" />
<line x1="72.42" y1="166.30" x2="72.42" y2="280.00" stroke="#e2e2e2" stroke-width="1" />
<line x1="93.22" y1="166.30" x2="93.22" y2="280.00" stroke="#e2e2e2" stroke-width="1" />
<line x1="114.03" y1="166.30" x2="114.03" y2="280.00" stroke="#e2e2e2" stroke-width="1" />
<line x1="134.84" y1="166.30" x2="134.84" y2="280.00" stroke="#e2e2e2" stroke-width="1" />
<line x1="155.65" y1="166.30" x2="155.65" y2="280.00" stroke="#e2e2e2" stroke-width="1" />
<line x1="176.46" y1="166.30" x2="176.46" y2="280.00" stroke="#e2e2e2" stroke-width="1" />
<line x1="197.27" y1="166.30" x2="197.27" y2="280.00" stroke="#e2e2e2" stroke-width="1" />
<line x1="218.07" y1="166.30" x2="218.07" y2="280.00" stroke="#e2e2e2" stroke-width="1" />
<line x1="238.88" y1="166.30" x2="238.88" y2="280.00" stroke="#e2e2e2" stroke-width="1" />
<line x1="259.69" y1="166.30" x2="259.69" y2="280.00" stroke="#e2e2e2" stroke-width="1" />
<line x1="30.80" y1="251.57" x2="280.50" y2="251.57" stroke="#e2e2e2" stroke-width="1" />
<line x1="30.80" y1="223.15" x2="280.50" y2="223.15" stroke="#e2e2e2" stroke-width="1" />
<line x1="30.80" y1="194.73" x2="280.50" y2="194.73" stroke="#e2e2e2" stroke-width="1" />
<g fill="#0b6bcb"><circle cx="40.6" cy="185.3" r="0.95"/><circle cx="39.2" cy="187.0" r="0.95"/><circle cx="38.7" cy="187.2" r="0.95"/><circle cx="40.1" cy="182.0" r="0.95"/><circle cx="39.9" cy="182.7" r="0.95"/><circle cx="38.7" cy="188.0" r="0.95"/><circle cx="37.7" cy="184.7" r="0.95"/><circle cx="38.7" cy="181.8" r="0.95"/><circle cx="39.9" cy="182.8" r="0.95"/><circle cx="38.8" cy="183.0" r="0.95"/><circle cx="39.8" cy="182.9" r="0.95"/><circle cx="40.0" cy="180.8" r="0.95"/><circle cx="41.0" cy="185.6" r="0.95"/><circle cx="38.5" cy="186.9" r="0.95"/><circle cx="40.2" cy="182.9" r="0.95"/><circle cx="37.0" cy="185.5" r="0.95"/><circle cx="38.6" cy="187.3" r="0.95"/><circle cx="37.3" cy="187.0" r="0.95"/><circle cx="40.7" cy="182.0" r="0.95"/><circle cx="37.8" cy="185.3" r="0.95"/><circle cx="41.0" cy="178.0" r="0.95"/><circle cx="46.0" cy="179.0" r="0.95"/><circle cx="45.0" cy="184.0" r="0.95"/><circle cx="47.6" cy="211.0" r="0.95"/><circle cx="35.0" cy="221.0" r="0.95"/><circle cx="58.0" cy="222.0" r="0.95"/><circle cx="43.5" cy="186.6" r="0.95"/><circle cx="44.7" cy="187.5" r="0.95"/><circle cx="43.7" cy="188.4" r="0.95"/><circle cx="46.3" cy="191.3" r="0.95"/><circle cx="44.4" cy="192.2" r="0.95"/><circle cx="47.3" cy="193.2" r="0.95"/><circle cx="47.9" cy="194.4" r="0.95"/><circle cx="46.7" cy="195.1" r="0.95"/><circle cx="47.4" cy="200.5" r="0.95"/><circle cx="49.1" cy="200.9" r="0.95"/><circle cx="47.3" cy="205.3" r="0.95"/><circle cx="61.5" cy="202.4" r="0.95"/><circle cx="61.0" cy="203.6" r="0.95"/><circle cx="59.5" cy="205.5" r="0.95"/><circle cx="61.5" cy="207.8" r="0.95"/><circle cx="59.8" cy="210.5" r="0.95"/><circle cx="60.7" cy="211.6" r="0.95"/><circle cx="67.5" cy="217.5" r="0.95"/><circle cx="63.6" cy="216.9" r="0.95"/><circle cx="65.1" cy="221.3" r="0.95"/><circle cx="66.2" cy="218.2" r="0.95"/><circle cx="68.9" cy="220.9" r="0.95"/><circle cx="70.1" cy="217.0" r="0.95"/><circle cx="68.3" cy="220.6" r="0.95"/><circle cx="64.8" cy="221.6" r="0.95"/><circle cx="70.3" cy="219.9" r="0.95"/><circle cx="69.3" cy="216.8" r="0.95"/><circle cx="69.8" cy="217.3" r="0.95"/><circle cx="65.4" cy="219.6" r="0.95"/><circle cx="67.9" cy="218.7" r="0.95"/><circle cx="69.7" cy="221.5" r="0.95"/><circle cx="67.2" cy="222.8" r="0.95"/><circle cx="66.2" cy="217.9" r="0.95"/><circle cx="68.5" cy="217.2" r="0.95"/><circle cx="69.5" cy="220.8" r="0.95"/><circle cx="66.6" cy="219.3" r="0.95"/><circle cx="70.6" cy="219.4" r="0.95"/><circle cx="63.8" cy="218.4" r="0.95"/><circle cx="65.4" cy="223.6" r="0.95"/><circle cx="66.5" cy="218.0" r="0.95"/><circle cx="69.1" cy="221.7" r="0.95"/><circle cx="63.6" cy="220.8" r="0.95"/><circle cx="64.8" cy="212.0" r="0.95"/><circle cx="63.5" cy="214.6" r="0.95"/><circle cx="63.6" cy="214.7" r="0.95"/><circle cx="64.8" cy="216.4" r="0.95"/><circle cx="66.3" cy="219.0" r="0.95"/><circle cx="66.0" cy="219.1" r="0.95"/><circle cx="67.5" cy="219.5" r="0.95"/><circle cx="70.1" cy="222.7" r="0.95"/><circle cx="69.3" cy="223.9" r="0.95"/><circle cx="70.4" cy="223.8" r="0.95"/><circle cx="76.6" cy="194.1" r="0.95"/><circle cx="76.3" cy="197.9" r="0.95"/><circle cx="78.8" cy="197.3" r="0.95"/><circle cx="76.7" cy="200.4" r="0.95"/><circle cx="77.2" cy="199.6" r="0.95"/><circle cx="80.1" cy="201.8" r="0.95"/><circle cx="79.1" cy="203.7" r="0.95"/><circle cx="81.0" cy="204.2" r="0.95"/><circle cx="81.4" cy="203.8" r="0.95"/><circle cx="80.5" cy="207.0" r="0.95"/><circle cx="81.9" cy="207.5" r="0.95"/><circle cx="81.6" cy="208.1" r="0.95"/><circle cx="82.2" cy="210.3" r="0.95"/><circle cx="83.4" cy="211.3" r="0.95"/><circle cx="81.2" cy="213.3" r="0.95"/><circle cx="82.4" cy="212.4" r="0.95"/><circle cx="84.4" cy="214.8" r="0.95"/><circle cx="82.2" cy="215.0" r="0.95"/><circle cx="82.9" cy="218.6" r="0.95"/><circle cx="85.0" cy="216.9" r="0.95"/><circle cx="85.0" cy="219.1" r="0.95"/><circle cx="84.5" cy="221.6" r="0.95"/><circle cx="84.4" cy="221.3" r="0.95"/><circle cx="86.8" cy="224.1" r="0.95"/><circle cx="86.9" cy="225.2" r="0.95"/><circle cx="82.5" cy="208.3" r="0.95"/><circle cx="82.2" cy="213.5" r="0.95"/><circle cx="81.4" cy="211.7" r="0.95"/><circle cx="79.1" cy="209.7" r="0.95"/><circle cx="81.2" cy="211.8" r="0.95"/><circle cx="81.1" cy="207.9" r="0.95"/><circle cx="83.9" cy="209.9" r="0.95"/><circle cx="80.2" cy="213.6" r="0.95"/><circle cx="82.1" cy="211.7" r="0.95"/><circle cx="78.2" cy="210.0" r="0.95"/><circle cx="81.0" cy="208.4" r="0.95"/><circle cx="78.5" cy="210.9" r="0.95"/><circle cx="76.0" cy="218.0" r="0.95"/><circle cx="75.6" cy="225.0" r="0.95"/><circle cx="76.0" cy="227.0" r="0.95"/><circle cx="102.8" cy="190.3" r="0.95"/><circle cx="102.9" cy="189.9" r="0.95"/><circle cx="104.8" cy="190.5" r="0.95"/><circle cx="103.7" cy="191.9" r="0.95"/><circle cx="106.5" cy="195.6" r="0.95"/><circle cx="104.6" cy="195.4" r="0.95"/><circle cx="106.9" cy="196.2" r="0.95"/><circle cx="105.5" cy="198.1" r="0.95"/><circle cx="108.3" cy="199.8" r="0.95"/><circle cx="108.7" cy="201.0" r="0.95"/><circle cx="108.9" cy="204.1" r="0.95"/><circle cx="109.4" cy="204.0" r="0.95"/><circle cx="109.4" cy="205.7" r="0.95"/><circle cx="109.5" cy="207.4" r="0.95"/><circle cx="111.8" cy="208.5" r="0.95"/><circle cx="110.7" cy="211.8" r="0.95"/><circle cx="110.2" cy="213.3" r="0.95"/><circle cx="113.4" cy="214.3" r="0.95"/><circle cx="114.0" cy="215.2" r="0.95"/><circle cx="114.0" cy="218.4" r="0.95"/><circle cx="113.6" cy="218.2" r="0.95"/><circle cx="115.6" cy="220.4" r="0.95"/><circle cx="114.7" cy="221.0" r="0.95"/><circle cx="115.9" cy="224.3" r="0.95"/><circle cx="115.8" cy="224.1" r="0.95"/><circle cx="108.1" cy="200.3" r="0.95"/><circle cx="110.3" cy="205.8" r="0.95"/><circle cx="108.9" cy="205.6" r="0.95"/><circle cx="110.2" cy="203.5" r="0.95"/><circle cx="108.5" cy="201.9" r="0.95"/><circle cx="108.4" cy="205.2" r="0.95"/><circle cx="108.5" cy="201.6" r="0.95"/><circle cx="107.4" cy="204.6" r="0.95"/><circle cx="106.9" cy="205.4" r="0.95"/><circle cx="107.2" cy="203.8" r="0.95"/><circle cx="105.9" cy="204.3" r="0.95"/><circle cx="106.0" cy="201.8" r="0.95"/><circle cx="107.5" cy="205.1" r="0.95"/><circle cx="108.1" cy="201.8" r="0.95"/><circle cx="108.5" cy="205.6" r="0.95"/><circle cx="103.6" cy="213.0" r="0.95"/><circle cx="103.0" cy="224.0" r="0.95"/><circle cx="102.4" cy="226.0" r="0.95"/><circle cx="125.1" cy="201.5" r="0.95"/><circle cx="127.4" cy="203.5" r="0.95"/><circle cx="126.5" cy="205.3" r="0.95"/><circle cx="126.5" cy="206.1" r="0.95"/><circle cx="125.5" cy="208.6" r="0.95"/><circle cx="127.3" cy="210.7" r="0.95"/><circle cx="126.9" cy="211.8" r="0.95"/><circle cx="127.0" cy="213.6" r="0.95"/><circle cx="126.1" cy="212.7" r="0.95"/><circle cx="128.1" cy="214.4" r="0.95"/><circle cx="127.6" cy="217.2" r="0.95"/><circle cx="126.6" cy="215.9" r="0.95"/><circle cx="126.1" cy="219.0" r="0.95"/><circle cx="129.2" cy="219.2" r="0.95"/><circle cx="128.0" cy="221.1" r="0.95"/><circle cx="128.0" cy="215.5" r="0.95"/><circle cx="129.9" cy="212.2" r="0.95"/><circle cx="127.9" cy="216.7" r="0.95"/><circle cx="127.7" cy="208.2" r="0.95"/><circle cx="127.9" cy="213.3" r="0.95"/><circle cx="126.7" cy="214.4" r="0.95"/><circle cx="127.4" cy="204.8" r="0.95"/><circle cx="129.0" cy="216.4" r="0.95"/><circle cx="126.9" cy="204.8" r="0.95"/><circle cx="128.4" cy="213.7" r="0.95"/><circle cx="128.2" cy="209.8" r="0.95"/><circle cx="125.9" cy="214.1" r="0.95"/><circle cx="125.6" cy="212.1" r="0.95"/><circle cx="126.1" cy="210.4" r="0.95"/><circle cx="128.4" cy="207.4" r="0.95"/><circle cx="133.0" cy="186.5" r="0.95"/><circle cx="133.7" cy="189.4" r="0.95"/><circle cx="133.5" cy="192.1" r="0.95"/><circle cx="132.7" cy="193.4" r="0.95"/><circle cx="134.0" cy="195.8" r="0.95"/><circle cx="134.0" cy="199.5" r="0.95"/><circle cx="133.8" cy="201.5" r="0.95"/><circle cx="134.8" cy="206.0" r="0.95"/><circle cx="134.2" cy="200.8" r="0.95"/><circle cx="133.4" cy="202.8" r="0.95"/><circle cx="133.9" cy="202.8" r="0.95"/><circle cx="134.2" cy="200.6" r="0.95"/><circle cx="133.3" cy="199.3" r="0.95"/><circle cx="133.3" cy="200.7" r="0.95"/><circle cx="132.0" cy="202.1" r="0.95"/><circle cx="133.0" cy="201.0" r="0.95"/><circle cx="135.5" cy="207.6" r="0.95"/><circle cx="134.3" cy="208.2" r="0.95"/><circle cx="137.2" cy="211.5" r="0.95"/><circle cx="135.3" cy="213.1" r="0.95"/><circle cx="136.4" cy="213.9" r="0.95"/><circle cx="136.9" cy="217.1" r="0.95"/><circle cx="138.1" cy="220.2" r="0.95"/><circle cx="137.3" cy="222.6" r="0.95"/><circle cx="138.0" cy="223.5" r="0.95"/><circle cx="138.5" cy="224.8" r="0.95"/><circle cx="58.0" cy="238.0" r="0.95"/><circle cx="73.6" cy="259.0" r="0.95"/><circle cx="76.0" cy="229.0" r="0.95"/><circle cx="90.4" cy="269.6" r="0.95"/><circle cx="97.6" cy="269.0" r="0.95"/><circle cx="119.0" cy="256.0" r="0.95"/><circle cx="56.3" cy="250.1" r="0.95"/><circle cx="55.0" cy="246.4" r="0.95"/><circle cx="55.4" cy="251.9" r="0.95"/><circle cx="54.8" cy="245.6" r="0.95"/><circle cx="55.3" cy="246.5" r="0.95"/><circle cx="55.2" cy="248.2" r="0.95"/><circle cx="54.1" cy="250.3" r="0.95"/><circle cx="56.1" cy="250.2" r="0.95"/><circle cx="55.4" cy="245.1" r="0.95"/><circle cx="56.6" cy="251.3" r="0.95"/><circle cx="57.2" cy="250.0" r="0.95"/><circle cx="54.1" cy="246.2" r="0.95"/><circle cx="56.4" cy="244.0" r="0.95"/><circle cx="54.7" cy="247.0" r="0.95"/><circle cx="70.7" cy="231.3" r="0.95"/><circle cx="70.0" cy="232.1" r="0.95"/><circle cx="72.6" cy="234.5" r="0.95"/><circle cx="72.9" cy="235.6" r="0.95"/><circle cx="73.1" cy="237.2" r="0.95"/><circle cx="73.0" cy="241.1" r="0.95"/><circle cx="71.5" cy="241.4" r="0.95"/><circle cx="85.6" cy="230.8" r="0.95"/><circle cx="85.1" cy="230.5" r="0.95"/><circle cx="88.4" cy="230.7" r="0.95"/><circle cx="88.6" cy="231.8" r="0.95"/><circle cx="87.6" cy="234.2" r="0.95"/><circle cx="88.8" cy="238.1" r="0.95"/><circle cx="88.4" cy="241.7" r="0.95"/><circle cx="87.8" cy="243.4" r="0.95"/><circle cx="87.9" cy="242.8" r="0.95"/><circle cx="88.6" cy="245.6" r="0.95"/><circle cx="89.2" cy="247.1" r="0.95"/><circle cx="89.5" cy="253.2" r="0.95"/><circle cx="94.3" cy="256.8" r="0.95"/><circle cx="92.7" cy="249.4" r="0.95"/><circle cx="95.1" cy="250.4" r="0.95"/><circle cx="94.6" cy="254.7" r="0.95"/><circle cx="91.8" cy="249.6" r="0.95"/><circle cx="96.5" cy="257.6" r="0.95"/><circle cx="91.7" cy="251.3" r="0.95"/><circle cx="96.1" cy="254.0" r="0.95"/><circle cx="90.0" cy="255.6" r="0.95"/><circle cx="91.9" cy="260.5" r="0.95"/><circle cx="94.4" cy="259.2" r="0.95"/><circle cx="95.1" cy="261.2" r="0.95"/><circle cx="92.7" cy="258.1" r="0.95"/><circle cx="93.7" cy="255.2" r="0.95"/><circle cx="90.1" cy="256.6" r="0.95"/><circle cx="93.2" cy="253.8" r="0.95"/><circle cx="94.8" cy="261.4" r="0.95"/><circle cx="93.1" cy="254.3" r="0.95"/><circle cx="93.1" cy="259.3" r="0.95"/><circle cx="91.4" cy="260.6" r="0.95"/><circle cx="94.3" cy="258.8" r="0.95"/><circle cx="93.8" cy="249.9" r="0.95"/><circle cx="94.2" cy="261.1" r="0.95"/><circle cx="94.3" cy="260.8" r="0.95"/><circle cx="90.2" cy="255.4" r="0.95"/><circle cx="94.7" cy="262.3" r="0.95"/><circle cx="90.9" cy="252.6" r="0.95"/><circle cx="94.2" cy="254.7" r="0.95"/><circle cx="96.4" cy="258.5" r="0.95"/><circle cx="94.6" cy="261.7" r="0.95"/><circle cx="92.4" cy="258.1" r="0.95"/><circle cx="94.8" cy="261.7" r="0.95"/><circle cx="90.6" cy="255.9" r="0.95"/><circle cx="89.3" cy="254.9" r="0.95"/><circle cx="96.2" cy="249.5" r="0.95"/><circle cx="97.4" cy="249.4" r="0.95"/><circle cx="98.7" cy="248.1" r="0.95"/><circle cx="98.1" cy="244.3" r="0.95"/><circle cx="100.5" cy="241.6" r="0.95"/><circle cx="100.1" cy="239.8" r="0.95"/><circle cx="101.0" cy="237.8" r="0.95"/><circle cx="101.6" cy="236.3" r="0.95"/><circle cx="102.3" cy="235.4" r="0.95"/><circle cx="102.2" cy="232.0" r="0.95"/><circle cx="102.2" cy="231.5" r="0.95"/><circle cx="101.7" cy="229.2" r="0.95"/><circle cx="102.6" cy="228.1" r="0.95"/><circle cx="99.0" cy="249.4" r="0.95"/><circle cx="99.6" cy="252.9" r="0.95"/><circle cx="97.6" cy="249.5" r="0.95"/><circle cx="99.1" cy="249.8" r="0.95"/><circle cx="100.8" cy="251.1" r="0.95"/><circle cx="98.8" cy="251.7" r="0.95"/><circle cx="98.5" cy="251.3" r="0.95"/><circle cx="96.9" cy="251.2" r="0.95"/><circle cx="115.4" cy="228.1" r="0.95"/><circle cx="114.6" cy="230.8" r="0.95"/><circle cx="117.3" cy="234.6" r="0.95"/><circle cx="117.1" cy="234.5" r="0.95"/><circle cx="116.3" cy="238.4" r="0.95"/><circle cx="116.5" cy="239.3" r="0.95"/><circle cx="118.3" cy="240.3" r="0.95"/><circle cx="119.4" cy="242.2" r="0.95"/><circle cx="120.0" cy="245.7" r="0.95"/><circle cx="118.9" cy="247.2" r="0.95"/><circle cx="117.3" cy="241.8" r="0.95"/><circle cx="117.1" cy="243.1" r="0.95"/><circle cx="121.2" cy="242.7" r="0.95"/><circle cx="120.4" cy="240.0" r="0.95"/><circle cx="118.2" cy="242.0" r="0.95"/><circle cx="118.5" cy="246.6" r="0.95"/><circle cx="121.7" cy="241.7" r="0.95"/><circle cx="122.0" cy="242.2" r="0.95"/><circle cx="122.0" cy="246.4" r="0.95"/><circle cx="120.0" cy="247.2" r="0.95"/><circle cx="121.7" cy="240.6" r="0.95"/><circle cx="122.4" cy="242.1" r="0.95"/><circle cx="121.7" cy="246.3" r="0.95"/><circle cx="120.8" cy="247.8" r="0.95"/><circle cx="119.2" cy="242.9" r="0.95"/><circle cx="120.7" cy="241.7" r="0.95"/><circle cx="120.9" cy="248.6" r="0.95"/><circle cx="119.7" cy="248.7" r="0.95"/><circle cx="121.6" cy="241.1" r="0.95"/><circle cx="117.4" cy="241.8" r="0.95"/><circle cx="120.6" cy="245.0" r="0.95"/><circle cx="118.0" cy="246.2" r="0.95"/><circle cx="118.9" cy="242.6" r="0.95"/><circle cx="117.7" cy="246.5" r="0.95"/><circle cx="118.5" cy="240.4" r="0.95"/><circle cx="123.6" cy="240.7" r="0.95"/><circle cx="123.9" cy="238.2" r="0.95"/><circle cx="123.5" cy="238.5" r="0.95"/><circle cx="124.8" cy="236.3" r="0.95"/><circle cx="123.7" cy="234.9" r="0.95"/><circle cx="136.7" cy="230.0" r="0.95"/><circle cx="137.2" cy="231.0" r="0.95"/><circle cx="138.1" cy="230.4" r="0.95"/><circle cx="138.9" cy="231.1" r="0.95"/><circle cx="138.3" cy="233.3" r="0.95"/><circle cx="141.0" cy="241.0" r="0.95"/><circle cx="139.3" cy="236.5" r="0.95"/><circle cx="142.6" cy="238.7" r="0.95"/><circle cx="142.7" cy="238.8" r="0.95"/><circle cx="142.0" cy="233.8" r="0.95"/><circle cx="142.2" cy="235.7" r="0.95"/><circle cx="141.5" cy="242.3" r="0.95"/><circle cx="140.4" cy="234.3" r="0.95"/><circle cx="141.4" cy="235.7" r="0.95"/><circle cx="140.6" cy="241.4" r="0.95"/><circle cx="140.0" cy="238.8" r="0.95"/><circle cx="140.0" cy="236.9" r="0.95"/><circle cx="139.2" cy="237.8" r="0.95"/><circle cx="142.9" cy="239.3" r="0.95"/><circle cx="152.9" cy="220.7" r="0.95"/><circle cx="153.5" cy="222.8" r="0.95"/><circle cx="152.1" cy="224.7" r="0.95"/><circle cx="153.5" cy="221.9" r="0.95"/><circle cx="155.9" cy="225.2" r="0.95"/><circle cx="154.2" cy="221.1" r="0.95"/><circle cx="154.5" cy="226.1" r="0.95"/><circle cx="155.4" cy="220.9" r="0.95"/><circle cx="150.7" cy="221.1" r="0.95"/><circle cx="152.8" cy="220.7" r="0.95"/><circle cx="151.7" cy="221.2" r="0.95"/><circle cx="150.1" cy="220.9" r="0.95"/><circle cx="151.2" cy="221.7" r="0.95"/><circle cx="154.6" cy="219.8" r="0.95"/><circle cx="153.5" cy="225.2" r="0.95"/><circle cx="150.9" cy="224.0" r="0.95"/><circle cx="151.1" cy="225.8" r="0.95"/><circle cx="153.0" cy="222.0" r="0.95"/><circle cx="152.6" cy="217.0" r="0.95"/><circle cx="167.6" cy="187.0" r="0.95"/><circle cx="173.6" cy="201.0" r="0.95"/><circle cx="180.0" cy="202.0" r="0.95"/><circle cx="185.0" cy="203.0" r="0.95"/><circle cx="184.0" cy="207.0" r="0.95"/><circle cx="166.0" cy="225.0" r="0.95"/><circle cx="198.6" cy="190.6" r="0.95"/><circle cx="200.0" cy="202.0" r="0.95"/><circle cx="202.0" cy="214.0" r="0.95"/><circle cx="203.0" cy="222.0" r="0.95"/><circle cx="233.0" cy="193.4" r="0.95"/><circle cx="238.0" cy="210.0" r="0.95"/><circle cx="246.0" cy="203.6" r="0.95"/><circle cx="251.0" cy="203.0" r="0.95"/><circle cx="249.0" cy="208.0" r="0.95"/><circle cx="269.0" cy="186.0" r="0.95"/><circle cx="265.0" cy="194.0" r="0.95"/><circle cx="267.0" cy="197.0" r="0.95"/><circle cx="175.4" cy="211.2" r="0.95"/><circle cx="171.1" cy="207.2" r="0.95"/><circle cx="168.9" cy="208.8" r="0.95"/><circle cx="171.9" cy="209.2" r="0.95"/><circle cx="170.3" cy="206.6" r="0.95"/><circle cx="170.3" cy="208.7" r="0.95"/><circle cx="172.0" cy="207.3" r="0.95"/><circle cx="172.2" cy="211.0" r="0.95"/><circle cx="169.1" cy="211.9" r="0.95"/><circle cx="175.2" cy="214.1" r="0.95"/><circle cx="172.3" cy="208.0" r="0.95"/><circle cx="173.7" cy="207.9" r="0.95"/><circle cx="174.8" cy="208.3" r="0.95"/><circle cx="169.5" cy="214.3" r="0.95"/><circle cx="169.7" cy="208.4" r="0.95"/><circle cx="173.6" cy="209.6" r="0.95"/><circle cx="171.2" cy="216.0" r="0.95"/><circle cx="172.5" cy="209.5" r="0.95"/><circle cx="172.7" cy="209.9" r="0.95"/><circle cx="174.6" cy="214.4" r="0.95"/><circle cx="170.2" cy="214.4" r="0.95"/><circle cx="173.5" cy="214.6" r="0.95"/><circle cx="172.1" cy="206.7" r="0.95"/><circle cx="171.9" cy="216.5" r="0.95"/><circle cx="175.3" cy="208.8" r="0.95"/><circle cx="183.8" cy="213.3" r="0.95"/><circle cx="184.6" cy="220.0" r="0.95"/><circle cx="180.7" cy="216.3" r="0.95"/><circle cx="177.0" cy="215.9" r="0.95"/><circle cx="181.1" cy="218.1" r="0.95"/><circle cx="177.9" cy="221.3" r="0.95"/><circle cx="179.4" cy="215.1" r="0.95"/><circle cx="181.6" cy="217.0" r="0.95"/><circle cx="186.1" cy="222.1" r="0.95"/><circle cx="183.8" cy="224.1" r="0.95"/><circle cx="176.9" cy="220.1" r="0.95"/><circle cx="186.6" cy="219.1" r="0.95"/><circle cx="186.8" cy="218.6" r="0.95"/><circle cx="178.3" cy="220.6" r="0.95"/><circle cx="184.2" cy="216.2" r="0.95"/><circle cx="180.5" cy="220.4" r="0.95"/><circle cx="185.2" cy="218.9" r="0.95"/><circle cx="187.2" cy="220.9" r="0.95"/><circle cx="176.4" cy="220.4" r="0.95"/><circle cx="182.4" cy="217.9" r="0.95"/><circle cx="184.2" cy="217.9" r="0.95"/><circle cx="185.7" cy="219.6" r="0.95"/><circle cx="183.1" cy="220.4" r="0.95"/><circle cx="182.0" cy="219.4" r="0.95"/><circle cx="179.7" cy="215.7" r="0.95"/><circle cx="178.3" cy="221.3" r="0.95"/><circle cx="181.3" cy="214.9" r="0.95"/><circle cx="183.9" cy="215.1" r="0.95"/><circle cx="179.6" cy="215.4" r="0.95"/><circle cx="184.1" cy="219.0" r="0.95"/><circle cx="194.6" cy="205.2" r="0.95"/><circle cx="195.5" cy="204.7" r="0.95"/><circle cx="195.7" cy="206.8" r="0.95"/><circle cx="197.5" cy="206.7" r="0.95"/><circle cx="199.3" cy="208.2" r="0.95"/><circle cx="196.9" cy="210.5" r="0.95"/><circle cx="198.5" cy="210.4" r="0.95"/><circle cx="199.2" cy="211.4" r="0.95"/><circle cx="197.6" cy="215.4" r="0.95"/><circle cx="199.8" cy="220.5" r="0.95"/><circle cx="199.3" cy="215.6" r="0.95"/><circle cx="197.8" cy="218.4" r="0.95"/><circle cx="198.2" cy="221.9" r="0.95"/><circle cx="196.5" cy="222.3" r="0.95"/><circle cx="199.2" cy="215.7" r="0.95"/><circle cx="200.2" cy="221.3" r="0.95"/><circle cx="196.6" cy="223.9" r="0.95"/><circle cx="195.3" cy="220.7" r="0.95"/><circle cx="200.1" cy="222.2" r="0.95"/><circle cx="200.5" cy="219.9" r="0.95"/><circle cx="230.9" cy="218.5" r="0.95"/><circle cx="231.9" cy="219.0" r="0.95"/><circle cx="232.6" cy="221.6" r="0.95"/><circle cx="233.4" cy="221.1" r="0.95"/><circle cx="235.2" cy="221.1" r="0.95"/><circle cx="234.3" cy="220.0" r="0.95"/><circle cx="237.6" cy="220.7" r="0.95"/><circle cx="239.8" cy="219.0" r="0.95"/><circle cx="234.1" cy="223.0" r="0.95"/><circle cx="233.4" cy="225.3" r="0.95"/><circle cx="234.0" cy="218.6" r="0.95"/><circle cx="234.8" cy="224.0" r="0.95"/><circle cx="235.2" cy="221.9" r="0.95"/><circle cx="233.8" cy="224.8" r="0.95"/><circle cx="235.2" cy="223.6" r="0.95"/><circle cx="235.2" cy="224.8" r="0.95"/><circle cx="233.4" cy="224.0" r="0.95"/><circle cx="235.6" cy="224.0" r="0.95"/><circle cx="247.1" cy="218.8" r="0.95"/><circle cx="245.9" cy="215.0" r="0.95"/><circle cx="249.1" cy="223.0" r="0.95"/><circle cx="246.1" cy="217.8" r="0.95"/><circle cx="248.7" cy="220.7" r="0.95"/><circle cx="246.6" cy="224.4" r="0.95"/><circle cx="247.2" cy="214.1" r="0.95"/><circle cx="246.2" cy="217.2" r="0.95"/><circle cx="244.9" cy="220.5" r="0.95"/><circle cx="247.3" cy="221.4" r="0.95"/><circle cx="249.4" cy="215.5" r="0.95"/><circle cx="245.7" cy="220.7" r="0.95"/><circle cx="248.4" cy="221.3" r="0.95"/><circle cx="245.5" cy="213.9" r="0.95"/><circle cx="244.2" cy="221.2" r="0.95"/><circle cx="246.6" cy="216.3" r="0.95"/><circle cx="246.6" cy="222.6" r="0.95"/><circle cx="246.8" cy="224.2" r="0.95"/><circle cx="254.1" cy="225.4" r="0.95"/><circle cx="252.2" cy="226.3" r="0.95"/><circle cx="252.4" cy="223.5" r="0.95"/><circle cx="253.0" cy="226.8" r="0.95"/><circle cx="250.9" cy="225.3" r="0.95"/><circle cx="252.6" cy="225.4" r="0.95"/><circle cx="258.7" cy="225.6" r="0.95"/><circle cx="260.9" cy="224.5" r="0.95"/><circle cx="258.9" cy="223.4" r="0.95"/><circle cx="261.2" cy="220.7" r="0.95"/><circle cx="262.0" cy="220.9" r="0.95"/><circle cx="260.3" cy="219.0" r="0.95"/><circle cx="260.3" cy="219.8" r="0.95"/><circle cx="263.0" cy="217.3" r="0.95"/><circle cx="264.0" cy="215.6" r="0.95"/><circle cx="261.2" cy="216.4" r="0.95"/><circle cx="264.0" cy="213.2" r="0.95"/><circle cx="263.0" cy="211.8" r="0.95"/><circle cx="264.2" cy="212.1" r="0.95"/><circle cx="264.8" cy="212.0" r="0.95"/><circle cx="265.9" cy="209.3" r="0.95"/><circle cx="264.9" cy="207.5" r="0.95"/><circle cx="265.9" cy="207.2" r="0.95"/><circle cx="266.6" cy="205.8" r="0.95"/><circle cx="266.0" cy="205.8" r="0.95"/><circle cx="265.7" cy="203.3" r="0.95"/><circle cx="267.4" cy="203.6" r="0.95"/><circle cx="266.4" cy="201.6" r="0.95"/><circle cx="267.8" cy="200.5" r="0.95"/><circle cx="267.0" cy="200.3" r="0.95"/><circle cx="269.4" cy="197.7" r="0.95"/><circle cx="145.2" cy="234.4" r="0.95"/><circle cx="146.1" cy="234.6" r="0.95"/><circle cx="144.9" cy="238.1" r="0.95"/><circle cx="146.9" cy="242.4" r="0.95"/><circle cx="146.7" cy="243.0" r="0.95"/><circle cx="153.6" cy="230.3" r="0.95"/><circle cx="155.3" cy="231.2" r="0.95"/><circle cx="156.6" cy="234.3" r="0.95"/><circle cx="157.3" cy="234.1" r="0.95"/><circle cx="158.0" cy="242.6" r="0.95"/><circle cx="158.0" cy="243.7" r="0.95"/><circle cx="159.9" cy="245.8" r="0.95"/><circle cx="157.4" cy="247.5" r="0.95"/><circle cx="163.4" cy="261.7" r="0.95"/><circle cx="161.2" cy="254.9" r="0.95"/><circle cx="160.9" cy="257.3" r="0.95"/><circle cx="162.5" cy="255.7" r="0.95"/><circle cx="163.2" cy="260.4" r="0.95"/><circle cx="163.3" cy="256.9" r="0.95"/><circle cx="164.1" cy="259.6" r="0.95"/><circle cx="163.4" cy="255.8" r="0.95"/><circle cx="161.0" cy="257.4" r="0.95"/><circle cx="163.6" cy="260.1" r="0.95"/><circle cx="161.7" cy="259.2" r="0.95"/><circle cx="161.7" cy="256.9" r="0.95"/><circle cx="163.9" cy="258.1" r="0.95"/><circle cx="160.3" cy="256.9" r="0.95"/><circle cx="161.5" cy="255.9" r="0.95"/><circle cx="162.9" cy="258.0" r="0.95"/><circle cx="164.0" cy="259.1" r="0.95"/><circle cx="161.9" cy="255.1" r="0.95"/><circle cx="165.6" cy="245.8" r="0.95"/><circle cx="166.0" cy="241.5" r="0.95"/><circle cx="165.6" cy="239.9" r="0.95"/><circle cx="165.1" cy="237.4" r="0.95"/><circle cx="165.8" cy="232.5" r="0.95"/><circle cx="177.6" cy="228.2" r="0.95"/><circle cx="179.2" cy="230.0" r="0.95"/><circle cx="179.6" cy="230.6" r="0.95"/><circle cx="178.8" cy="231.2" r="0.95"/><circle cx="181.2" cy="230.2" r="0.95"/><circle cx="183.1" cy="232.7" r="0.95"/><circle cx="182.2" cy="232.3" r="0.95"/><circle cx="182.9" cy="235.1" r="0.95"/><circle cx="184.2" cy="233.5" r="0.95"/><circle cx="183.6" cy="236.9" r="0.95"/><circle cx="183.6" cy="236.8" r="0.95"/><circle cx="186.7" cy="237.8" r="0.95"/><circle cx="186.6" cy="236.5" r="0.95"/><circle cx="186.1" cy="238.0" r="0.95"/><circle cx="186.7" cy="240.1" r="0.95"/><circle cx="187.5" cy="238.9" r="0.95"/><circle cx="187.3" cy="240.9" r="0.95"/><circle cx="189.2" cy="242.2" r="0.95"/><circle cx="189.4" cy="243.8" r="0.95"/><circle cx="192.0" cy="244.9" r="0.95"/><circle cx="191.5" cy="237.8" r="0.95"/><circle cx="187.6" cy="242.8" r="0.95"/><circle cx="190.5" cy="237.1" r="0.95"/><circle cx="184.0" cy="239.3" r="0.95"/><circle cx="185.6" cy="235.9" r="0.95"/><circle cx="187.1" cy="238.1" r="0.95"/><circle cx="190.0" cy="241.0" r="0.95"/><circle cx="190.4" cy="241.8" r="0.95"/><circle cx="187.2" cy="237.5" r="0.95"/><circle cx="187.0" cy="239.2" r="0.95"/><circle cx="187.9" cy="239.7" r="0.95"/><circle cx="191.3" cy="237.6" r="0.95"/><circle cx="188.5" cy="235.9" r="0.95"/><circle cx="188.6" cy="239.8" r="0.95"/><circle cx="189.4" cy="238.5" r="0.95"/><circle cx="185.1" cy="237.5" r="0.95"/><circle cx="186.2" cy="235.9" r="0.95"/><circle cx="191.4" cy="241.0" r="0.95"/><circle cx="192.4" cy="246.9" r="0.95"/><circle cx="190.2" cy="247.9" r="0.95"/><circle cx="190.8" cy="251.2" r="0.95"/><circle cx="190.5" cy="253.2" r="0.95"/><circle cx="192.0" cy="258.7" r="0.95"/><circle cx="194.4" cy="236.9" r="0.95"/><circle cx="194.8" cy="236.1" r="0.95"/><circle cx="194.4" cy="235.4" r="0.95"/><circle cx="200.5" cy="228.6" r="0.95"/><circle cx="202.8" cy="231.7" r="0.95"/><circle cx="201.3" cy="232.5" r="0.95"/><circle cx="202.8" cy="233.9" r="0.95"/><circle cx="204.0" cy="237.4" r="0.95"/><circle cx="203.3" cy="238.5" r="0.95"/><circle cx="202.1" cy="243.8" r="0.95"/><circle cx="203.6" cy="246.3" r="0.95"/><circle cx="204.8" cy="248.6" r="0.95"/><circle cx="204.7" cy="249.4" r="0.95"/><circle cx="203.4" cy="250.4" r="0.95"/><circle cx="205.7" cy="253.0" r="0.95"/><circle cx="205.5" cy="254.8" r="0.95"/><circle cx="206.1" cy="254.2" r="0.95"/><circle cx="206.6" cy="258.0" r="0.95"/><circle cx="205.8" cy="258.2" r="0.95"/><circle cx="206.9" cy="260.4" r="0.95"/><circle cx="207.3" cy="260.8" r="0.95"/><circle cx="207.5" cy="262.1" r="0.95"/><circle cx="206.4" cy="263.8" r="0.95"/><circle cx="207.2" cy="263.8" r="0.95"/><circle cx="205.9" cy="263.5" r="0.95"/><circle cx="208.7" cy="259.7" r="0.95"/><circle cx="206.5" cy="262.8" r="0.95"/><circle cx="205.8" cy="259.0" r="0.95"/><circle cx="205.7" cy="258.1" r="0.95"/><circle cx="208.9" cy="261.4" r="0.95"/><circle cx="206.3" cy="256.0" r="0.95"/><circle cx="208.2" cy="258.0" r="0.95"/><circle cx="209.2" cy="240.7" r="0.95"/><circle cx="209.8" cy="243.6" r="0.95"/><circle cx="209.5" cy="243.3" r="0.95"/><circle cx="209.8" cy="245.9" r="0.95"/><circle cx="211.1" cy="246.7" r="0.95"/><circle cx="212.7" cy="248.5" r="0.95"/><circle cx="211.7" cy="250.9" r="0.95"/><circle cx="212.2" cy="252.5" r="0.95"/><circle cx="213.0" cy="233.0" r="0.95"/><circle cx="258.0" cy="272.0" r="0.95"/><circle cx="262.0" cy="235.0" r="0.95"/><circle cx="219.7" cy="233.3" r="0.95"/><circle cx="219.8" cy="232.6" r="0.95"/><circle cx="220.5" cy="236.3" r="0.95"/><circle cx="221.6" cy="237.8" r="0.95"/><circle cx="220.5" cy="238.8" r="0.95"/><circle cx="220.7" cy="237.3" r="0.95"/><circle cx="220.8" cy="239.2" r="0.95"/><circle cx="221.9" cy="242.3" r="0.95"/><circle cx="226.1" cy="263.7" r="0.95"/><circle cx="225.2" cy="256.5" r="0.95"/><circle cx="224.7" cy="256.9" r="0.95"/><circle cx="226.3" cy="260.5" r="0.95"/><circle cx="226.4" cy="262.0" r="0.95"/><circle cx="228.0" cy="263.3" r="0.95"/><circle cx="225.7" cy="260.0" r="0.95"/><circle cx="225.8" cy="256.6" r="0.95"/><circle cx="225.6" cy="256.7" r="0.95"/><circle cx="225.6" cy="260.7" r="0.95"/><circle cx="228.5" cy="262.6" r="0.95"/><circle cx="225.4" cy="260.9" r="0.95"/><circle cx="225.6" cy="260.9" r="0.95"/><circle cx="227.1" cy="264.2" r="0.95"/><circle cx="225.2" cy="258.9" r="0.95"/><circle cx="223.8" cy="257.8" r="0.95"/><circle cx="224.1" cy="263.2" r="0.95"/><circle cx="226.7" cy="262.9" r="0.95"/><circle cx="223.4" cy="259.8" r="0.95"/><circle cx="226.9" cy="257.2" r="0.95"/><circle cx="226.2" cy="255.4" r="0.95"/><circle cx="226.9" cy="261.0" r="0.95"/><circle cx="224.1" cy="245.1" r="0.95"/><circle cx="224.9" cy="247.4" r="0.95"/><circle cx="225.1" cy="250.6" r="0.95"/><circle cx="227.3" cy="250.9" r="0.95"/><circle cx="228.4" cy="252.7" r="0.95"/><circle cx="230.1" cy="229.0" r="0.95"/><circle cx="232.0" cy="230.0" r="0.95"/><circle cx="230.5" cy="233.0" r="0.95"/><circle cx="232.0" cy="236.2" r="0.95"/><circle cx="232.6" cy="236.2" r="0.95"/><circle cx="231.8" cy="240.1" r="0.95"/><circle cx="231.5" cy="240.4" r="0.95"/><circle cx="232.3" cy="243.3" r="0.95"/><circle cx="238.9" cy="231.8" r="0.95"/><circle cx="238.3" cy="236.0" r="0.95"/><circle cx="239.3" cy="237.8" r="0.95"/><circle cx="240.3" cy="238.6" r="0.95"/><circle cx="238.8" cy="239.8" r="0.95"/><circle cx="239.9" cy="243.6" r="0.95"/><circle cx="239.5" cy="245.0" r="0.95"/><circle cx="239.7" cy="245.2" r="0.95"/><circle cx="239.4" cy="247.5" r="0.95"/><circle cx="242.2" cy="249.5" r="0.95"/><circle cx="241.9" cy="250.3" r="0.95"/><circle cx="241.2" cy="253.5" r="0.95"/><circle cx="240.6" cy="254.6" r="0.95"/><circle cx="243.5" cy="255.9" r="0.95"/><circle cx="243.8" cy="259.5" r="0.95"/><circle cx="241.1" cy="249.8" r="0.95"/><circle cx="242.5" cy="253.7" r="0.95"/><circle cx="241.5" cy="256.1" r="0.95"/><circle cx="242.1" cy="257.3" r="0.95"/><circle cx="241.5" cy="252.4" r="0.95"/><circle cx="243.1" cy="251.1" r="0.95"/><circle cx="242.8" cy="255.8" r="0.95"/><circle cx="242.5" cy="254.0" r="0.95"/><circle cx="246.5" cy="233.6" r="0.95"/><circle cx="247.5" cy="237.2" r="0.95"/><circle cx="246.2" cy="235.7" r="0.95"/><circle cx="255.8" cy="230.3" r="0.95"/><circle cx="254.9" cy="232.5" r="0.95"/><circle cx="253.7" cy="232.4" r="0.95"/><circle cx="254.8" cy="233.9" r="0.95"/><circle cx="254.5" cy="238.2" r="0.95"/><circle cx="255.9" cy="238.7" r="0.95"/><circle cx="254.9" cy="241.5" r="0.95"/><circle cx="256.1" cy="242.2" r="0.95"/><circle cx="254.6" cy="243.6" r="0.95"/><circle cx="255.5" cy="244.8" r="0.95"/><circle cx="256.8" cy="249.0" r="0.95"/><circle cx="257.1" cy="247.7" r="0.95"/><circle cx="256.0" cy="252.2" r="0.95"/><circle cx="259.0" cy="252.1" r="0.95"/><circle cx="257.7" cy="253.4" r="0.95"/><circle cx="258.7" cy="257.1" r="0.95"/><circle cx="258.8" cy="258.2" r="0.95"/><circle cx="257.3" cy="260.3" r="0.95"/><circle cx="257.6" cy="247.4" r="0.95"/><circle cx="256.7" cy="254.4" r="0.95"/><circle cx="256.2" cy="255.0" r="0.95"/><circle cx="257.9" cy="253.4" r="0.95"/><circle cx="256.7" cy="248.4" r="0.95"/><circle cx="258.2" cy="254.5" r="0.95"/><circle cx="256.5" cy="251.1" r="0.95"/><circle cx="258.8" cy="248.7" r="0.95"/><circle cx="255.5" cy="251.5" r="0.95"/><circle cx="258.2" cy="249.2" r="0.95"/><circle cx="147.3" cy="228.0" r="0.95"/><circle cx="148.8" cy="228.1" r="0.95"/><circle cx="240.8" cy="228.6" r="0.95"/><circle cx="239.7" cy="228.2" r="0.95"/><circle cx="240.4" cy="228.5" r="0.95"/><circle cx="245.6" cy="228.3" r="0.95"/><circle cx="262.6" cy="228.1" r="0.95"/><circle cx="262.0" cy="228.4" r="0.95"/></g>
<line x1="52.30" y1="159.00" x2="52.30" y2="280.00" stroke="#c8365a" stroke-width="1.1" stroke-dasharray="3.8 2"/>
<line x1="135.20" y1="159.00" x2="135.20" y2="280.00" stroke="#c8365a" stroke-width="1.1" stroke-dasharray="3.8 2"/>
<line x1="218.20" y1="159.00" x2="218.20" y2="280.00" stroke="#c8365a" stroke-width="1.1" stroke-dasharray="3.8 2"/>
<rect x="30.8" y="166.3" width="249.7" height="113.69999999999999" fill="none" stroke="#666666" stroke-width="1.3"/>
<line x1="30.80" y1="280.00" x2="30.80" y2="282.50" stroke="#666666" stroke-width="1.1" />
<line x1="30.80" y1="166.30" x2="30.80" y2="163.80" stroke="#666666" stroke-width="1.1" />
<line x1="51.61" y1="280.00" x2="51.61" y2="282.50" stroke="#666666" stroke-width="1.1" />
<line x1="51.61" y1="166.30" x2="51.61" y2="163.80" stroke="#666666" stroke-width="1.1" />
<line x1="72.42" y1="280.00" x2="72.42" y2="282.50" stroke="#666666" stroke-width="1.1" />
<line x1="72.42" y1="166.30" x2="72.42" y2="163.80" stroke="#666666" stroke-width="1.1" />
<line x1="93.22" y1="280.00" x2="93.22" y2="282.50" stroke="#666666" stroke-width="1.1" />
<line x1="93.22" y1="166.30" x2="93.22" y2="163.80" stroke="#666666" stroke-width="1.1" />
<line x1="114.03" y1="280.00" x2="114.03" y2="282.50" stroke="#666666" stroke-width="1.1" />
<line x1="114.03" y1="166.30" x2="114.03" y2="163.80" stroke="#666666" stroke-width="1.1" />
<line x1="134.84" y1="280.00" x2="134.84" y2="282.50" stroke="#666666" stroke-width="1.1" />
<line x1="134.84" y1="166.30" x2="134.84" y2="163.80" stroke="#666666" stroke-width="1.1" />
<line x1="155.65" y1="280.00" x2="155.65" y2="282.50" stroke="#666666" stroke-width="1.1" />
<line x1="155.65" y1="166.30" x2="155.65" y2="163.80" stroke="#666666" stroke-width="1.1" />
<line x1="176.46" y1="280.00" x2="176.46" y2="282.50" stroke="#666666" stroke-width="1.1" />
<line x1="176.46" y1="166.30" x2="176.46" y2="163.80" stroke="#666666" stroke-width="1.1" />
<line x1="197.27" y1="280.00" x2="197.27" y2="282.50" stroke="#666666" stroke-width="1.1" />
<line x1="197.27" y1="166.30" x2="197.27" y2="163.80" stroke="#666666" stroke-width="1.1" />
<line x1="218.07" y1="280.00" x2="218.07" y2="282.50" stroke="#666666" stroke-width="1.1" />
<line x1="218.07" y1="166.30" x2="218.07" y2="163.80" stroke="#666666" stroke-width="1.1" />
<line x1="238.88" y1="280.00" x2="238.88" y2="282.50" stroke="#666666" stroke-width="1.1" />
<line x1="238.88" y1="166.30" x2="238.88" y2="163.80" stroke="#666666" stroke-width="1.1" />
<line x1="259.69" y1="280.00" x2="259.69" y2="282.50" stroke="#666666" stroke-width="1.1" />
<line x1="259.69" y1="166.30" x2="259.69" y2="163.80" stroke="#666666" stroke-width="1.1" />
<line x1="280.50" y1="280.00" x2="280.50" y2="282.50" stroke="#666666" stroke-width="1.1" />
<line x1="280.50" y1="166.30" x2="280.50" y2="163.80" stroke="#666666" stroke-width="1.1" />
<line x1="27.80" y1="280.00" x2="30.80" y2="280.00" stroke="#666666" stroke-width="1.1" />
<line x1="280.50" y1="280.00" x2="283.50" y2="280.00" stroke="#666666" stroke-width="1.1" />
<line x1="27.80" y1="251.57" x2="30.80" y2="251.57" stroke="#666666" stroke-width="1.1" />
<line x1="280.50" y1="251.57" x2="283.50" y2="251.57" stroke="#666666" stroke-width="1.1" />
<line x1="27.80" y1="223.15" x2="30.80" y2="223.15" stroke="#666666" stroke-width="1.1" />
<line x1="280.50" y1="223.15" x2="283.50" y2="223.15" stroke="#666666" stroke-width="1.1" />
<line x1="27.80" y1="194.73" x2="30.80" y2="194.73" stroke="#666666" stroke-width="1.1" />
<line x1="280.50" y1="194.73" x2="283.50" y2="194.73" stroke="#666666" stroke-width="1.1" />
<line x1="27.80" y1="166.30" x2="30.80" y2="166.30" stroke="#666666" stroke-width="1.1" />
<line x1="280.50" y1="166.30" x2="283.50" y2="166.30" stroke="#666666" stroke-width="1.1" />
<text x="25.30" y="282.60" font-size="8.6" text-anchor="end" stroke="#111" stroke-width="0.22" textLength="16.07" lengthAdjust="spacingAndGlyphs" >100</text>
<text x="25.30" y="254.17" font-size="8.6" text-anchor="end" stroke="#111" stroke-width="0.22" textLength="16.07" lengthAdjust="spacingAndGlyphs" >150</text>
<text x="25.30" y="225.75" font-size="8.6" text-anchor="end" stroke="#111" stroke-width="0.22" textLength="16.07" lengthAdjust="spacingAndGlyphs" >200</text>
<text x="25.30" y="197.33" font-size="8.6" text-anchor="end" stroke="#111" stroke-width="0.22" textLength="16.07" lengthAdjust="spacingAndGlyphs" >250</text>
<text x="25.30" y="168.90" font-size="8.6" text-anchor="end" stroke="#111" stroke-width="0.22" textLength="16.07" lengthAdjust="spacingAndGlyphs" >300</text>
<text x="35.00" y="291.80" font-size="8.6" text-anchor="end" stroke="#111" stroke-width="0.22" textLength="16.07" lengthAdjust="spacingAndGlyphs" transform="rotate(-30 35.00 291.80)" >270</text>
<text x="55.81" y="291.80" font-size="8.6" text-anchor="end" stroke="#111" stroke-width="0.22" textLength="16.07" lengthAdjust="spacingAndGlyphs" transform="rotate(-30 55.81 291.80)" >360</text>
<text x="76.62" y="291.80" font-size="8.6" text-anchor="end" stroke="#111" stroke-width="0.22" textLength="10.72" lengthAdjust="spacingAndGlyphs" transform="rotate(-30 76.62 291.80)" >90</text>
<text x="97.42" y="291.80" font-size="8.6" text-anchor="end" stroke="#111" stroke-width="0.22" textLength="16.07" lengthAdjust="spacingAndGlyphs" transform="rotate(-30 97.42 291.80)" >180</text>
<text x="118.23" y="291.80" font-size="8.6" text-anchor="end" stroke="#111" stroke-width="0.22" textLength="16.07" lengthAdjust="spacingAndGlyphs" transform="rotate(-30 118.23 291.80)" >270</text>
<text x="139.04" y="291.80" font-size="8.6" text-anchor="end" stroke="#111" stroke-width="0.22" textLength="16.07" lengthAdjust="spacingAndGlyphs" transform="rotate(-30 139.04 291.80)" >360</text>
<text x="159.85" y="291.80" font-size="8.6" text-anchor="end" stroke="#111" stroke-width="0.22" textLength="10.72" lengthAdjust="spacingAndGlyphs" transform="rotate(-30 159.85 291.80)" >90</text>
<text x="180.66" y="291.80" font-size="8.6" text-anchor="end" stroke="#111" stroke-width="0.22" textLength="16.07" lengthAdjust="spacingAndGlyphs" transform="rotate(-30 180.66 291.80)" >180</text>
<text x="201.47" y="291.80" font-size="8.6" text-anchor="end" stroke="#111" stroke-width="0.22" textLength="16.07" lengthAdjust="spacingAndGlyphs" transform="rotate(-30 201.47 291.80)" >270</text>
<text x="222.27" y="291.80" font-size="8.6" text-anchor="end" stroke="#111" stroke-width="0.22" textLength="16.07" lengthAdjust="spacingAndGlyphs" transform="rotate(-30 222.27 291.80)" >360</text>
<text x="243.08" y="291.80" font-size="8.6" text-anchor="end" stroke="#111" stroke-width="0.22" textLength="10.72" lengthAdjust="spacingAndGlyphs" transform="rotate(-30 243.08 291.80)" >90</text>
<text x="263.89" y="291.80" font-size="8.6" text-anchor="end" stroke="#111" stroke-width="0.22" textLength="16.07" lengthAdjust="spacingAndGlyphs" transform="rotate(-30 263.89 291.80)" >180</text>
<text x="284.70" y="291.80" font-size="8.6" text-anchor="end" stroke="#111" stroke-width="0.22" textLength="16.07" lengthAdjust="spacingAndGlyphs" transform="rotate(-30 284.70 291.80)" >270</text>
<text x="37.80" y="162.20" font-size="8.2" text-anchor="middle" stroke="#111" stroke-width="0.22" textLength="13.36" lengthAdjust="spacingAndGlyphs" >(b)</text>
<text x="11.70" y="72.00" font-size="8.6" text-anchor="middle" stroke="#111" stroke-width="0.22" textLength="64.93" lengthAdjust="spacingAndGlyphs" transform="rotate(-90 11.70 72.00)" >Amplitude (%)</text>
<text x="6.30" y="222.70" font-size="8.0" text-anchor="middle" stroke="#111" stroke-width="0.22" textLength="73.38" lengthAdjust="spacingAndGlyphs" transform="rotate(-90 6.30 222.70)" >Temperature (K)</text>
<text x="155.50" y="308.20" font-size="8.6" text-anchor="middle" stroke="#111" stroke-width="0.22" textLength="114.32" lengthAdjust="spacingAndGlyphs" >Solar Longitude, Ls (deg.)</text>
<text x="42.50" y="26.70" font-size="7.2" text-anchor="middle" stroke="#111" stroke-width="0.22" textLength="20.2" lengthAdjust="spacingAndGlyphs" >MY 32</text>
<text x="96.00" y="26.70" font-size="7.2" text-anchor="middle" stroke="#111" stroke-width="0.22" textLength="20.2" lengthAdjust="spacingAndGlyphs" >MY 33</text>
<text x="183.50" y="26.70" font-size="7.2" text-anchor="middle" stroke="#111" stroke-width="0.22" textLength="20.2" lengthAdjust="spacingAndGlyphs" >MY 34</text>
<text x="249.00" y="26.70" font-size="7.2" text-anchor="middle" stroke="#111" stroke-width="0.22" textLength="20.2" lengthAdjust="spacingAndGlyphs" >MY 35</text>
<rect x="344.3" y="11.3" width="306.2" height="269.7" fill="#e6c987"/>
<circle cx="371.6" cy="12.4" r="2.1" fill="#a4ffff"/><circle cx="393.0" cy="15.0" r="2.1" fill="#18fcff"/><circle cx="362.4" cy="17.0" r="2.1" fill="#92ffff"/><circle cx="362.4" cy="22.0" r="2.1" fill="#92ffff"/><circle cx="365.0" cy="24.4" r="2.1" fill="#a4ffff"/><circle cx="369.6" cy="23.6" r="2.1" fill="#a4ffff"/><circle cx="368.0" cy="27.0" r="2.1" fill="#a4ffff"/><circle cx="366.0" cy="29.0" r="2.1" fill="#b6ffff"/><circle cx="372.0" cy="29.6" r="2.1" fill="#a4ffff"/><circle cx="370.0" cy="32.0" r="2.1" fill="#a4ffff"/><circle cx="367.0" cy="33.6" r="2.1" fill="#b6ffff"/><circle cx="365.0" cy="35.0" r="2.1" fill="#a4ffff"/><circle cx="369.0" cy="35.0" r="2.1" fill="#b6ffff"/><circle cx="363.0" cy="37.0" r="2.1" fill="#a4ffff"/><circle cx="367.0" cy="38.4" r="2.1" fill="#a4ffff"/><circle cx="380.0" cy="25.6" r="2.1" fill="#30ffff"/><circle cx="377.0" cy="32.0" r="2.1" fill="#92ffff"/><circle cx="377.0" cy="34.4" r="2.1" fill="#92ffff"/><circle cx="382.0" cy="34.0" r="2.1" fill="#30ffff"/><circle cx="383.6" cy="33.6" r="2.1" fill="#30ffff"/><circle cx="380.0" cy="38.0" r="2.1" fill="#30ffff"/><circle cx="352.0" cy="37.0" r="2.1" fill="#18fcff"/><circle cx="390.0" cy="39.0" r="2.1" fill="#18fcff"/><circle cx="399.0" cy="39.0" r="2.1" fill="#18fcff"/><circle cx="349.6" cy="46.0" r="2.1" fill="#0030ff"/><circle cx="367.6" cy="45.4" r="2.1" fill="#92ffff"/><circle cx="379.0" cy="51.4" r="2.1" fill="#0060ff"/><circle cx="381.6" cy="50.6" r="2.1" fill="#92ffff"/><circle cx="387.6" cy="50.0" r="2.1" fill="#30ffff"/><circle cx="391.6" cy="51.0" r="2.1" fill="#80ffff"/><circle cx="390.0" cy="53.0" r="2.1" fill="#30ffff"/><circle cx="375.6" cy="54.4" r="2.1" fill="#80ffff"/><circle cx="358.6" cy="53.0" r="2.1" fill="#30ffff"/><circle cx="356.6" cy="57.0" r="2.1" fill="#30ffff"/><circle cx="355.6" cy="61.0" r="2.1" fill="#30ffff"/><circle cx="388.0" cy="57.6" r="2.1" fill="#80ffff"/><circle cx="391.6" cy="57.6" r="2.1" fill="#30ffff"/><circle cx="380.6" cy="60.4" r="2.1" fill="#00a0ff"/><circle cx="376.0" cy="61.6" r="2.1" fill="#80ffff"/><circle cx="377.0" cy="63.6" r="2.1" fill="#80ffff"/><circle cx="402.4" cy="62.0" r="2.1" fill="#18fcff"/><circle cx="398.0" cy="65.6" r="2.1" fill="#18fcff"/><circle cx="350.0" cy="75.0" r="2.1" fill="#18fcff"/><circle cx="356.0" cy="74.0" r="2.1" fill="#80ffff"/><circle cx="360.0" cy="78.0" r="2.1" fill="#30ffff"/><circle cx="354.0" cy="79.0" r="2.1" fill="#92ffff"/><circle cx="350.0" cy="82.0" r="2.1" fill="#0050ff"/><circle cx="352.0" cy="83.0" r="2.1" fill="#30ffff"/><circle cx="359.0" cy="81.0" r="2.1" fill="#80ffff"/><circle cx="363.0" cy="83.0" r="2.1" fill="#30ffff"/><circle cx="350.0" cy="86.0" r="2.1" fill="#0050ff"/><circle cx="353.0" cy="87.0" r="2.1" fill="#80ffff"/><circle cx="357.0" cy="86.0" r="2.1" fill="#92ffff"/><circle cx="360.0" cy="87.0" r="2.1" fill="#a4ffff"/><circle cx="349.6" cy="91.0" r="2.1" fill="#0008f0"/><circle cx="354.0" cy="91.0" r="2.1" fill="#80ffff"/><circle cx="358.0" cy="91.0" r="2.1" fill="#a4ffff"/><circle cx="362.0" cy="90.0" r="2.1" fill="#80ffff"/><circle cx="349.0" cy="95.0" r="2.1" fill="#0050ff"/><circle cx="352.0" cy="95.0" r="2.1" fill="#30ffff"/><circle cx="357.0" cy="96.0" r="2.1" fill="#a4ffff"/><circle cx="361.0" cy="95.0" r="2.1" fill="#92ffff"/><circle cx="349.6" cy="98.0" r="2.1" fill="#0030ff"/><circle cx="353.0" cy="99.0" r="2.1" fill="#80ffff"/><circle cx="359.0" cy="100.0" r="2.1" fill="#80ffff"/><circle cx="363.0" cy="98.0" r="2.1" fill="#58ffff"/><circle cx="350.0" cy="102.0" r="2.1" fill="#30ffff"/><circle cx="355.0" cy="103.0" r="2.1" fill="#92ffff"/><circle cx="360.0" cy="104.0" r="2.1" fill="#92ffff"/><circle cx="350.0" cy="106.0" r="2.1" fill="#0050ff"/><circle cx="353.0" cy="107.0" r="2.1" fill="#58ffff"/><circle cx="357.6" cy="108.0" r="2.1" fill="#80ffff"/><circle cx="362.0" cy="107.0" r="2.1" fill="#80ffff"/><circle cx="350.4" cy="109.4" r="2.1" fill="#0030ff"/><circle cx="354.0" cy="111.0" r="2.1" fill="#58ffff"/><circle cx="359.0" cy="112.0" r="2.1" fill="#92ffff"/><circle cx="363.0" cy="110.6" r="2.1" fill="#80ffff"/><circle cx="352.0" cy="114.0" r="2.1" fill="#30ffff"/><circle cx="357.0" cy="115.0" r="2.1" fill="#80ffff"/><circle cx="361.0" cy="116.0" r="2.1" fill="#80ffff"/><circle cx="349.6" cy="119.0" r="2.1" fill="#0050ff"/><circle cx="354.0" cy="118.0" r="2.1" fill="#58ffff"/><circle cx="359.0" cy="119.0" r="2.1" fill="#80ffff"/><circle cx="352.0" cy="122.0" r="2.1" fill="#00008c"/><circle cx="356.0" cy="123.0" r="2.1" fill="#80ffff"/><circle cx="360.0" cy="124.0" r="2.1" fill="#80ffff"/><circle cx="363.0" cy="122.0" r="2.1" fill="#58ffff"/><circle cx="350.0" cy="125.0" r="2.1" fill="#30ffff"/><circle cx="355.6" cy="114.0" r="2.1" fill="#18fcff"/><circle cx="377.0" cy="114.6" r="2.1" fill="#80ffff"/><circle cx="383.0" cy="114.6" r="2.1" fill="#80ffff"/><circle cx="387.0" cy="113.6" r="2.1" fill="#80ffff"/><circle cx="391.6" cy="113.2" r="2.1" fill="#80ffff"/><circle cx="395.6" cy="114.2" r="2.1" fill="#80ffff"/><circle cx="377.0" cy="70.0" r="2.1" fill="#80ffff"/><circle cx="382.0" cy="71.0" r="2.1" fill="#80ffff"/><circle cx="386.0" cy="72.0" r="2.1" fill="#92ffff"/><circle cx="391.0" cy="73.0" r="2.1" fill="#30ffff"/><circle cx="400.0" cy="74.0" r="2.1" fill="#30ffff"/><circle cx="373.0" cy="75.0" r="2.1" fill="#80ffff"/><circle cx="379.0" cy="76.0" r="2.1" fill="#92ffff"/><circle cx="384.0" cy="77.0" r="2.1" fill="#a4ffff"/><circle cx="388.0" cy="77.0" r="2.1" fill="#a4ffff"/><circle cx="395.0" cy="76.0" r="2.1" fill="#30ffff"/><circle cx="401.0" cy="77.0" r="2.1" fill="#58ffff"/><circle cx="403.6" cy="81.0" r="2.1" fill="#30ffff"/><circle cx="376.0" cy="79.0" r="2.1" fill="#80ffff"/><circle cx="382.0" cy="80.0" r="2.1" fill="#a4ffff"/><circle cx="387.0" cy="81.0" r="2.1" fill="#a4ffff"/><circle cx="392.0" cy="80.0" r="2.1" fill="#80ffff"/><circle cx="399.0" cy="84.0" r="2.1" fill="#0090ff"/><circle cx="372.0" cy="83.0" r="2.1" fill="#80ffff"/><circle cx="378.0" cy="84.0" r="2.1" fill="#92ffff"/><circle cx="385.0" cy="85.0" r="2.1" fill="#a4ffff"/><circle cx="389.0" cy="84.0" r="2.1" fill="#92ffff"/><circle cx="396.0" cy="86.0" r="2.1" fill="#58ffff"/><circle cx="375.0" cy="87.0" r="2.1" fill="#80ffff"/><circle cx="381.0" cy="88.0" r="2.1" fill="#80ffff"/><circle cx="386.0" cy="90.0" r="2.1" fill="#92ffff"/><circle cx="394.0" cy="90.0" r="2.1" fill="#80ffff"/><circle cx="400.0" cy="90.0" r="2.1" fill="#30ffff"/><circle cx="373.0" cy="92.0" r="2.1" fill="#80ffff"/><circle cx="379.0" cy="93.0" r="2.1" fill="#92ffff"/><circle cx="374.0" cy="95.0" r="2.1" fill="#00ccff"/><circle cx="390.0" cy="94.0" r="2.1" fill="#58ffff"/><circle cx="402.0" cy="96.0" r="2.1" fill="#30ffff"/><circle cx="368.0" cy="98.0" r="2.1" fill="#30ffff"/><circle cx="377.0" cy="97.0" r="2.1" fill="#80ffff"/><circle cx="370.0" cy="100.0" r="2.1" fill="#80ffff"/><circle cx="376.0" cy="101.0" r="2.1" fill="#92ffff"/><circle cx="386.0" cy="100.0" r="2.1" fill="#30ffff"/><circle cx="398.0" cy="98.0" r="2.1" fill="#30ffff"/><circle cx="403.0" cy="101.0" r="2.1" fill="#0080ff"/><circle cx="398.0" cy="104.6" r="2.1" fill="#0090ff"/><circle cx="400.0" cy="105.0" r="2.1" fill="#30ffff"/><circle cx="372.0" cy="105.0" r="2.1" fill="#80ffff"/><circle cx="368.0" cy="107.0" r="2.1" fill="#30ffff"/><circle cx="375.0" cy="108.0" r="2.1" fill="#80ffff"/><circle cx="392.0" cy="108.0" r="2.1" fill="#30ffff"/><circle cx="396.0" cy="110.0" r="2.1" fill="#58ffff"/><circle cx="370.0" cy="112.0" r="2.1" fill="#80ffff"/><circle cx="378.0" cy="114.6" r="2.1" fill="#0050ff"/><circle cx="373.0" cy="114.0" r="2.1" fill="#80ffff"/><circle cx="384.0" cy="117.4" r="2.1" fill="#30ffff"/><circle cx="394.0" cy="113.0" r="2.1" fill="#30ffff"/><circle cx="398.0" cy="116.0" r="2.1" fill="#58ffff"/><circle cx="370.0" cy="118.0" r="2.1" fill="#80ffff"/><circle cx="376.0" cy="119.0" r="2.1" fill="#58ffff"/><circle cx="394.0" cy="118.0" r="2.1" fill="#30ffff"/><circle cx="400.0" cy="119.0" r="2.1" fill="#30ffff"/><circle cx="372.0" cy="123.0" r="2.1" fill="#80ffff"/><circle cx="377.0" cy="124.0" r="2.1" fill="#80ffff"/><circle cx="394.0" cy="123.0" r="2.1" fill="#30ffff"/><circle cx="399.0" cy="124.0" r="2.1" fill="#58ffff"/><circle cx="380.0" cy="126.0" r="2.1" fill="#80ffff"/><circle cx="472.0" cy="74.6" r="2.1" fill="#18fcff"/><circle cx="434.0" cy="116.6" r="2.1" fill="#18fcff"/><circle cx="350.6" cy="85.7" r="2.1" fill="#30ffff"/><circle cx="350.6" cy="95.8" r="2.1" fill="#79ffff"/><circle cx="348.9" cy="77.3" r="2.1" fill="#28feff"/><circle cx="350.8" cy="106.6" r="2.1" fill="#43ffff"/><circle cx="349.7" cy="79.9" r="2.1" fill="#70ffff"/><circle cx="349.1" cy="112.9" r="2.1" fill="#74ffff"/><circle cx="351.1" cy="85.2" r="2.1" fill="#74ffff"/><circle cx="352.0" cy="87.3" r="2.1" fill="#005bff"/><circle cx="356.0" cy="80.9" r="2.1" fill="#73ffff"/><circle cx="358.6" cy="98.8" r="2.1" fill="#beffff"/><circle cx="358.8" cy="111.2" r="2.1" fill="#b7ffff"/><circle cx="363.1" cy="99.1" r="2.1" fill="#91ffff"/><circle cx="356.7" cy="74.8" r="2.1" fill="#3cffff"/><circle cx="357.6" cy="91.8" r="2.1" fill="#3bffff"/><circle cx="356.0" cy="96.8" r="2.1" fill="#0af9ff"/><circle cx="352.6" cy="123.2" r="2.1" fill="#bbffff"/><circle cx="355.9" cy="109.1" r="2.1" fill="#15fbff"/><circle cx="356.1" cy="98.7" r="2.1" fill="#27feff"/><circle cx="358.4" cy="75.2" r="2.1" fill="#bcffff"/><circle cx="354.7" cy="110.3" r="2.1" fill="#9dffff"/><circle cx="358.7" cy="81.0" r="2.1" fill="#91ffff"/><circle cx="363.7" cy="82.3" r="2.1" fill="#b6ffff"/><circle cx="352.7" cy="125.9" r="2.1" fill="#12fbff"/><circle cx="359.8" cy="75.8" r="2.1" fill="#6dffff"/><circle cx="357.7" cy="111.1" r="2.1" fill="#1cfcff"/><circle cx="354.2" cy="122.2" r="2.1" fill="#45ffff"/><circle cx="352.5" cy="89.8" r="2.1" fill="#b2ffff"/><circle cx="356.6" cy="97.2" r="2.1" fill="#77ffff"/><circle cx="359.7" cy="124.4" r="2.1" fill="#b7ffff"/><circle cx="352.8" cy="88.1" r="2.1" fill="#79ffff"/><circle cx="361.8" cy="122.7" r="2.1" fill="#2fffff"/><circle cx="356.3" cy="80.4" r="2.1" fill="#82ffff"/><circle cx="359.4" cy="86.7" r="2.1" fill="#c6ffff"/><circle cx="357.5" cy="85.4" r="2.1" fill="#53ffff"/><circle cx="357.9" cy="97.5" r="2.1" fill="#b6ffff"/><circle cx="359.1" cy="85.6" r="2.1" fill="#b4ffff"/><circle cx="361.9" cy="100.3" r="2.1" fill="#9dffff"/><circle cx="362.2" cy="77.8" r="2.1" fill="#20fdff"/><circle cx="395.4" cy="112.6" r="2.1" fill="#86ffff"/><circle cx="398.4" cy="110.5" r="2.1" fill="#1cfcff"/><circle cx="382.9" cy="117.9" r="2.1" fill="#64ffff"/><circle cx="398.2" cy="98.6" r="2.1" fill="#6fffff"/><circle cx="370.7" cy="80.8" r="2.1" fill="#33ffff"/><circle cx="383.9" cy="114.4" r="2.1" fill="#a0ffff"/><circle cx="383.5" cy="84.5" r="2.1" fill="#88ffff"/><circle cx="382.4" cy="114.9" r="2.1" fill="#76ffff"/><circle cx="377.0" cy="88.9" r="2.1" fill="#78ffff"/><circle cx="384.5" cy="114.8" r="2.1" fill="#93ffff"/><circle cx="380.3" cy="98.1" r="2.1" fill="#13fbff"/><circle cx="377.4" cy="125.0" r="2.1" fill="#1afcff"/><circle cx="387.5" cy="119.9" r="2.1" fill="#77ffff"/><circle cx="371.5" cy="100.8" r="2.1" fill="#2afeff"/><circle cx="402.0" cy="92.5" r="2.1" fill="#68ffff"/><circle cx="384.8" cy="82.8" r="2.1" fill="#9dffff"/><circle cx="373.6" cy="106.2" r="2.1" fill="#9bffff"/><circle cx="384.0" cy="72.9" r="2.1" fill="#0bfaff"/><circle cx="372.8" cy="91.6" r="2.1" fill="#74ffff"/><circle cx="387.4" cy="102.7" r="2.1" fill="#1ffcff"/><circle cx="389.5" cy="112.1" r="2.1" fill="#6dffff"/><circle cx="401.6" cy="105.8" r="2.1" fill="#31ffff"/><circle cx="348.9" cy="159.4" r="2.1" fill="#003eff"/><circle cx="348.0" cy="160.7" r="2.1" fill="#000000"/><circle cx="349.0" cy="128.0" r="2.1" fill="#004fff"/><circle cx="347.5" cy="135.2" r="2.1" fill="#0000ab"/><circle cx="350.6" cy="147.3" r="2.1" fill="#000089"/><circle cx="351.0" cy="144.1" r="2.1" fill="#0069ff"/><circle cx="348.9" cy="155.6" r="2.1" fill="#000048"/><circle cx="350.8" cy="143.1" r="2.1" fill="#0028ff"/><circle cx="351.5" cy="180.3" r="2.1" fill="#0050ff"/><circle cx="350.9" cy="155.6" r="2.1" fill="#0000b6"/><circle cx="348.2" cy="149.2" r="2.1" fill="#002bff"/><circle cx="349.2" cy="182.4" r="2.1" fill="#004aff"/><circle cx="348.4" cy="136.3" r="2.1" fill="#000000"/><circle cx="351.8" cy="158.8" r="2.1" fill="#006cff"/><circle cx="348.6" cy="181.3" r="2.1" fill="#0015ff"/><circle cx="349.2" cy="129.4" r="2.1" fill="#000075"/><circle cx="350.1" cy="158.4" r="2.1" fill="#0005e9"/><circle cx="349.0" cy="149.4" r="2.1" fill="#0034ff"/><circle cx="350.0" cy="135.7" r="2.1" fill="#000000"/><circle cx="349.2" cy="138.3" r="2.1" fill="#0004e8"/><circle cx="347.8" cy="173.6" r="2.1" fill="#0028ff"/><circle cx="350.7" cy="176.6" r="2.1" fill="#0023ff"/><circle cx="349.8" cy="173.8" r="2.1" fill="#0065ff"/><circle cx="350.4" cy="179.3" r="2.1" fill="#003aff"/><circle cx="356.1" cy="131.6" r="2.1" fill="#a1ffff"/><circle cx="354.2" cy="127.7" r="2.1" fill="#bcffff"/><circle cx="356.2" cy="137.2" r="2.1" fill="#9affff"/><circle cx="355.9" cy="151.5" r="2.1" fill="#d1ffff"/><circle cx="356.8" cy="174.7" r="2.1" fill="#bdffff"/><circle cx="358.5" cy="135.9" r="2.1" fill="#b6ffff"/><circle cx="355.5" cy="163.4" r="2.1" fill="#aaffff"/><circle cx="353.7" cy="170.2" r="2.1" fill="#c8ffff"/><circle cx="353.1" cy="169.9" r="2.1" fill="#3affff"/><circle cx="357.5" cy="181.9" r="2.1" fill="#55ffff"/><circle cx="357.1" cy="131.6" r="2.1" fill="#d0ffff"/><circle cx="356.4" cy="181.1" r="2.1" fill="#98ffff"/><circle cx="353.4" cy="166.7" r="2.1" fill="#ceffff"/><circle cx="354.2" cy="167.9" r="2.1" fill="#a7ffff"/><circle cx="355.5" cy="174.1" r="2.1" fill="#b1ffff"/><circle cx="357.8" cy="175.8" r="2.1" fill="#93ffff"/><circle cx="356.5" cy="176.7" r="2.1" fill="#9fffff"/><circle cx="354.5" cy="151.0" r="2.1" fill="#98ffff"/><circle cx="358.0" cy="177.0" r="2.1" fill="#98ffff"/><circle cx="358.9" cy="135.9" r="2.1" fill="#c3ffff"/><circle cx="355.3" cy="174.2" r="2.1" fill="#4dffff"/><circle cx="352.4" cy="149.2" r="2.1" fill="#9cffff"/><circle cx="353.0" cy="176.4" r="2.1" fill="#40ffff"/><circle cx="356.5" cy="183.7" r="2.1" fill="#baffff"/><circle cx="358.9" cy="156.6" r="2.1" fill="#53ffff"/><circle cx="357.4" cy="167.0" r="2.1" fill="#cfffff"/><circle cx="358.2" cy="130.0" r="2.1" fill="#b3ffff"/><circle cx="358.0" cy="139.5" r="2.1" fill="#9dffff"/><circle cx="355.0" cy="169.4" r="2.1" fill="#a7ffff"/><circle cx="355.4" cy="181.5" r="2.1" fill="#bfffff"/><circle cx="354.2" cy="138.6" r="2.1" fill="#cdffff"/><circle cx="354.2" cy="155.6" r="2.1" fill="#6fffff"/><circle cx="353.1" cy="179.6" r="2.1" fill="#bfffff"/><circle cx="352.6" cy="145.1" r="2.1" fill="#d2ffff"/><circle cx="354.3" cy="149.1" r="2.1" fill="#94ffff"/><circle cx="353.8" cy="140.5" r="2.1" fill="#ccffff"/><circle cx="357.0" cy="159.2" r="2.1" fill="#bbffff"/><circle cx="354.7" cy="154.7" r="2.1" fill="#9dffff"/><circle cx="357.7" cy="155.5" r="2.1" fill="#93ffff"/><circle cx="358.6" cy="156.6" r="2.1" fill="#74ffff"/><circle cx="355.4" cy="154.2" r="2.1" fill="#b1ffff"/><circle cx="358.5" cy="146.1" r="2.1" fill="#9effff"/><circle cx="355.6" cy="158.1" r="2.1" fill="#80ffff"/><circle cx="355.1" cy="172.7" r="2.1" fill="#c1ffff"/><circle cx="352.7" cy="165.9" r="2.1" fill="#cfffff"/><circle cx="352.0" cy="157.0" r="2.1" fill="#a3ffff"/><circle cx="356.2" cy="128.9" r="2.1" fill="#c2ffff"/><circle cx="357.0" cy="164.8" r="2.1" fill="#6affff"/><circle cx="355.1" cy="151.0" r="2.1" fill="#c1ffff"/><circle cx="352.5" cy="139.2" r="2.1" fill="#c9ffff"/><circle cx="356.0" cy="147.1" r="2.1" fill="#caffff"/><circle cx="356.0" cy="160.0" r="2.1" fill="#43ffff"/><circle cx="358.1" cy="157.1" r="2.1" fill="#d4ffff"/><circle cx="355.5" cy="152.5" r="2.1" fill="#bbffff"/><circle cx="355.4" cy="154.1" r="2.1" fill="#7affff"/><circle cx="355.7" cy="144.7" r="2.1" fill="#bbffff"/><circle cx="358.3" cy="176.7" r="2.1" fill="#c5ffff"/><circle cx="356.2" cy="166.5" r="2.1" fill="#c7ffff"/><circle cx="356.8" cy="154.4" r="2.1" fill="#98ffff"/><circle cx="353.9" cy="175.7" r="2.1" fill="#a9ffff"/><circle cx="354.5" cy="144.7" r="2.1" fill="#b1ffff"/><circle cx="352.5" cy="134.7" r="2.1" fill="#d4ffff"/><circle cx="355.4" cy="133.3" r="2.1" fill="#c5ffff"/><circle cx="356.3" cy="147.7" r="2.1" fill="#7dffff"/><circle cx="358.8" cy="167.2" r="2.1" fill="#d1ffff"/><circle cx="355.3" cy="178.0" r="2.1" fill="#d6ffff"/><circle cx="357.6" cy="136.3" r="2.1" fill="#a2ffff"/><circle cx="356.1" cy="177.1" r="2.1" fill="#7effff"/><circle cx="356.4" cy="171.7" r="2.1" fill="#a2ffff"/><circle cx="356.9" cy="157.0" r="2.1" fill="#49ffff"/><circle cx="353.8" cy="159.4" r="2.1" fill="#4cffff"/><circle cx="358.2" cy="132.5" r="2.1" fill="#c1ffff"/><circle cx="356.2" cy="138.6" r="2.1" fill="#a6ffff"/><circle cx="355.3" cy="137.6" r="2.1" fill="#7effff"/><circle cx="356.8" cy="178.4" r="2.1" fill="#b8ffff"/><circle cx="353.7" cy="164.4" r="2.1" fill="#96ffff"/><circle cx="355.7" cy="149.2" r="2.1" fill="#94ffff"/><circle cx="352.8" cy="168.2" r="2.1" fill="#c7ffff"/><circle cx="353.7" cy="165.4" r="2.1" fill="#c6ffff"/><circle cx="355.7" cy="173.6" r="2.1" fill="#bbffff"/><circle cx="361.2" cy="170.6" r="2.1" fill="#0081ff"/><circle cx="361.5" cy="177.9" r="2.1" fill="#00e6ff"/><circle cx="366.2" cy="131.1" r="2.1" fill="#25fdff"/><circle cx="363.9" cy="181.5" r="2.1" fill="#0092ff"/><circle cx="361.9" cy="151.1" r="2.1" fill="#00b6ff"/><circle cx="360.3" cy="127.8" r="2.1" fill="#18fbff"/><circle cx="360.8" cy="148.3" r="2.1" fill="#00b8ff"/><circle cx="365.9" cy="146.9" r="2.1" fill="#0075ff"/><circle cx="362.8" cy="178.2" r="2.1" fill="#5fffff"/><circle cx="364.9" cy="169.3" r="2.1" fill="#00a3ff"/><circle cx="366.3" cy="129.7" r="2.1" fill="#00baff"/><circle cx="364.2" cy="179.6" r="2.1" fill="#0099ff"/><circle cx="364.9" cy="151.5" r="2.1" fill="#00f2ff"/><circle cx="359.3" cy="172.3" r="2.1" fill="#00d6ff"/><circle cx="358.6" cy="136.8" r="2.1" fill="#00e7ff"/><circle cx="359.3" cy="166.9" r="2.1" fill="#00f0ff"/><circle cx="360.2" cy="163.1" r="2.1" fill="#00aeff"/><circle cx="360.0" cy="163.8" r="2.1" fill="#00deff"/><circle cx="361.8" cy="173.5" r="2.1" fill="#17fbff"/><circle cx="366.3" cy="182.1" r="2.1" fill="#00f1ff"/><circle cx="364.0" cy="128.8" r="2.1" fill="#00efff"/><circle cx="365.9" cy="129.3" r="2.1" fill="#00a7ff"/><circle cx="360.8" cy="160.3" r="2.1" fill="#007dff"/><circle cx="361.9" cy="155.4" r="2.1" fill="#3affff"/><circle cx="359.7" cy="131.8" r="2.1" fill="#79ffff"/><circle cx="361.3" cy="157.7" r="2.1" fill="#00b1ff"/><circle cx="364.1" cy="144.2" r="2.1" fill="#5affff"/><circle cx="361.9" cy="131.4" r="2.1" fill="#00d2ff"/><circle cx="361.7" cy="161.6" r="2.1" fill="#00e5ff"/><circle cx="358.5" cy="128.2" r="2.1" fill="#12fbff"/><circle cx="358.3" cy="160.1" r="2.1" fill="#80ffff"/><circle cx="359.3" cy="165.8" r="2.1" fill="#49ffff"/><circle cx="364.7" cy="164.1" r="2.1" fill="#0efaff"/><circle cx="363.0" cy="139.4" r="2.1" fill="#18fbff"/><circle cx="360.0" cy="146.7" r="2.1" fill="#00e4ff"/><circle cx="361.5" cy="138.1" r="2.1" fill="#4dffff"/><circle cx="363.7" cy="171.2" r="2.1" fill="#51ffff"/><circle cx="359.3" cy="176.5" r="2.1" fill="#43ffff"/><circle cx="364.7" cy="161.7" r="2.1" fill="#21fdff"/><circle cx="358.5" cy="160.2" r="2.1" fill="#00d4ff"/><circle cx="365.7" cy="164.2" r="2.1" fill="#72ffff"/><circle cx="360.6" cy="174.8" r="2.1" fill="#20fdff"/><circle cx="361.6" cy="138.3" r="2.1" fill="#0cfaff"/><circle cx="366.0" cy="160.1" r="2.1" fill="#00f8ff"/><circle cx="361.5" cy="146.6" r="2.1" fill="#62ffff"/><circle cx="367.7" cy="149.1" r="2.1" fill="#00edff"/><circle cx="380.6" cy="157.8" r="2.1" fill="#00bbff"/><circle cx="376.9" cy="182.4" r="2.1" fill="#43ffff"/><circle cx="369.8" cy="136.8" r="2.1" fill="#07f9ff"/><circle cx="385.7" cy="147.9" r="2.1" fill="#00bbff"/><circle cx="368.7" cy="164.1" r="2.1" fill="#0094ff"/><circle cx="373.2" cy="156.3" r="2.1" fill="#00b1ff"/><circle cx="384.4" cy="162.2" r="2.1" fill="#44ffff"/><circle cx="378.5" cy="163.2" r="2.1" fill="#3affff"/><circle cx="374.9" cy="166.9" r="2.1" fill="#4fffff"/><circle cx="379.6" cy="138.0" r="2.1" fill="#00adff"/><circle cx="377.0" cy="170.2" r="2.1" fill="#47ffff"/><circle cx="376.8" cy="182.6" r="2.1" fill="#4effff"/><circle cx="383.9" cy="163.6" r="2.1" fill="#00ebff"/><circle cx="371.1" cy="167.1" r="2.1" fill="#3effff"/><circle cx="371.1" cy="159.9" r="2.1" fill="#00b0ff"/><circle cx="384.5" cy="158.3" r="2.1" fill="#06f9ff"/><circle cx="377.3" cy="170.2" r="2.1" fill="#007dff"/><circle cx="355.7" cy="180.1" r="2.1" fill="#008aff"/><circle cx="356.0" cy="168.5" r="2.1" fill="#00bcff"/><circle cx="368.0" cy="176.4" r="2.1" fill="#00eaff"/><circle cx="356.3" cy="175.4" r="2.1" fill="#00b3ff"/><circle cx="363.2" cy="179.5" r="2.1" fill="#00f7ff"/><circle cx="370.5" cy="172.6" r="2.1" fill="#00a5ff"/><circle cx="372.7" cy="179.3" r="2.1" fill="#00abff"/><circle cx="363.5" cy="170.7" r="2.1" fill="#00cbff"/><circle cx="373.8" cy="169.2" r="2.1" fill="#007cff"/><circle cx="356.7" cy="174.3" r="2.1" fill="#00bdff"/><circle cx="359.0" cy="168.6" r="2.1" fill="#007dff"/><circle cx="373.8" cy="177.5" r="2.1" fill="#00afff"/><circle cx="360.1" cy="171.7" r="2.1" fill="#10faff"/><circle cx="370.4" cy="174.4" r="2.1" fill="#00a7ff"/><circle cx="363.9" cy="178.1" r="2.1" fill="#00b2ff"/><circle cx="348.4" cy="228.2" r="2.1" fill="#004fff"/><circle cx="350.0" cy="222.3" r="2.1" fill="#0057ff"/><circle cx="350.5" cy="222.0" r="2.1" fill="#0009f1"/><circle cx="349.9" cy="184.8" r="2.1" fill="#0083ff"/><circle cx="349.8" cy="195.3" r="2.1" fill="#000ffd"/><circle cx="350.6" cy="198.0" r="2.1" fill="#0009f2"/><circle cx="350.5" cy="207.5" r="2.1" fill="#004eff"/><circle cx="350.4" cy="211.1" r="2.1" fill="#000af4"/><circle cx="348.3" cy="208.2" r="2.1" fill="#003fff"/><circle cx="349.7" cy="233.0" r="2.1" fill="#0061ff"/><circle cx="350.6" cy="229.3" r="2.1" fill="#0016ff"/><circle cx="350.9" cy="189.1" r="2.1" fill="#0049ff"/><circle cx="350.1" cy="198.6" r="2.1" fill="#006cff"/><circle cx="349.2" cy="188.4" r="2.1" fill="#0028ff"/><circle cx="347.8" cy="231.3" r="2.1" fill="#008aff"/><circle cx="351.9" cy="231.2" r="2.1" fill="#004aff"/><circle cx="351.4" cy="195.2" r="2.1" fill="#003aff"/><circle cx="351.2" cy="205.2" r="2.1" fill="#0046ff"/><circle cx="349.4" cy="219.3" r="2.1" fill="#004aff"/><circle cx="351.2" cy="235.5" r="2.1" fill="#000dfa"/><circle cx="349.6" cy="240.9" r="2.1" fill="#0037ff"/><circle cx="349.9" cy="225.3" r="2.1" fill="#0052ff"/><circle cx="350.6" cy="226.0" r="2.1" fill="#0022ff"/><circle cx="350.1" cy="210.5" r="2.1" fill="#0023ff"/><circle cx="348.6" cy="203.5" r="2.1" fill="#0032ff"/><circle cx="357.7" cy="186.3" r="2.1" fill="#0097ff"/><circle cx="352.4" cy="185.6" r="2.1" fill="#0029ff"/><circle cx="358.5" cy="236.4" r="2.1" fill="#0077ff"/><circle cx="353.3" cy="199.0" r="2.1" fill="#005bff"/><circle cx="359.6" cy="224.4" r="2.1" fill="#6cffff"/><circle cx="361.6" cy="229.8" r="2.1" fill="#008cff"/><circle cx="355.9" cy="214.8" r="2.1" fill="#00edff"/><circle cx="356.3" cy="223.1" r="2.1" fill="#9fffff"/><circle cx="353.3" cy="201.9" r="2.1" fill="#0063ff"/><circle cx="360.3" cy="195.5" r="2.1" fill="#0085ff"/><circle cx="353.9" cy="218.6" r="2.1" fill="#82ffff"/><circle cx="357.7" cy="220.1" r="2.1" fill="#0052ff"/><circle cx="353.3" cy="202.6" r="2.1" fill="#0030ff"/><circle cx="352.2" cy="200.8" r="2.1" fill="#08f9ff"/><circle cx="352.5" cy="226.0" r="2.1" fill="#009cff"/><circle cx="353.7" cy="240.8" r="2.1" fill="#0032ff"/><circle cx="359.3" cy="218.0" r="2.1" fill="#95ffff"/><circle cx="354.8" cy="213.5" r="2.1" fill="#0070ff"/><circle cx="355.7" cy="186.4" r="2.1" fill="#0048ff"/><circle cx="359.4" cy="225.1" r="2.1" fill="#19fcff"/><circle cx="356.7" cy="194.4" r="2.1" fill="#30ffff"/><circle cx="360.1" cy="239.8" r="2.1" fill="#00ecff"/><circle cx="358.1" cy="209.9" r="2.1" fill="#0030ff"/><circle cx="355.7" cy="215.0" r="2.1" fill="#00a9ff"/><circle cx="355.0" cy="238.9" r="2.1" fill="#0015ff"/><circle cx="359.2" cy="227.9" r="2.1" fill="#0029ff"/><circle cx="352.3" cy="189.5" r="2.1" fill="#0086ff"/><circle cx="352.4" cy="193.3" r="2.1" fill="#0056ff"/><circle cx="355.0" cy="197.1" r="2.1" fill="#00f0ff"/><circle cx="355.2" cy="199.0" r="2.1" fill="#1bfcff"/><circle cx="352.4" cy="207.5" r="2.1" fill="#00ecff"/><circle cx="352.9" cy="208.7" r="2.1" fill="#0022ff"/><circle cx="359.0" cy="209.3" r="2.1" fill="#00f4ff"/><circle cx="353.2" cy="192.2" r="2.1" fill="#006eff"/><circle cx="352.2" cy="196.8" r="2.1" fill="#64ffff"/><circle cx="357.0" cy="189.0" r="2.1" fill="#009cff"/><circle cx="354.6" cy="213.0" r="2.1" fill="#21fdff"/><circle cx="358.4" cy="191.6" r="2.1" fill="#007eff"/><circle cx="360.0" cy="199.7" r="2.1" fill="#0016ff"/><circle cx="357.8" cy="205.0" r="2.1" fill="#0068ff"/><circle cx="358.7" cy="221.6" r="2.1" fill="#00efff"/><circle cx="356.9" cy="239.3" r="2.1" fill="#00abff"/><circle cx="356.9" cy="236.2" r="2.1" fill="#0059ff"/><circle cx="356.2" cy="213.8" r="2.1" fill="#00dfff"/><circle cx="357.0" cy="208.3" r="2.1" fill="#87ffff"/><circle cx="358.2" cy="215.7" r="2.1" fill="#004cff"/><circle cx="358.5" cy="219.6" r="2.1" fill="#00e4ff"/><circle cx="358.6" cy="216.5" r="2.1" fill="#17fbff"/><circle cx="352.2" cy="223.1" r="2.1" fill="#0089ff"/><circle cx="353.5" cy="195.2" r="2.1" fill="#0036ff"/><circle cx="361.5" cy="215.6" r="2.1" fill="#0090ff"/><circle cx="352.2" cy="229.6" r="2.1" fill="#0068ff"/><circle cx="352.7" cy="192.0" r="2.1" fill="#0094ff"/><circle cx="353.3" cy="207.1" r="2.1" fill="#00aaff"/><circle cx="352.9" cy="200.9" r="2.1" fill="#0073ff"/><circle cx="357.4" cy="232.0" r="2.1" fill="#0073ff"/><circle cx="353.3" cy="239.7" r="2.1" fill="#0099ff"/><circle cx="361.4" cy="234.4" r="2.1" fill="#2effff"/><circle cx="352.4" cy="185.2" r="2.1" fill="#0014ff"/><circle cx="353.5" cy="202.1" r="2.1" fill="#002cff"/><circle cx="361.4" cy="200.2" r="2.1" fill="#006eff"/><circle cx="355.8" cy="202.1" r="2.1" fill="#0043ff"/><circle cx="355.5" cy="240.0" r="2.1" fill="#009cff"/><circle cx="358.3" cy="200.4" r="2.1" fill="#0024ff"/><circle cx="353.5" cy="193.7" r="2.1" fill="#006bff"/><circle cx="368.7" cy="240.7" r="2.1" fill="#0080ff"/><circle cx="364.0" cy="239.1" r="2.1" fill="#00eeff"/><circle cx="364.1" cy="230.1" r="2.1" fill="#9affff"/><circle cx="363.5" cy="233.4" r="2.1" fill="#00eaff"/><circle cx="372.3" cy="228.2" r="2.1" fill="#009fff"/><circle cx="369.8" cy="219.9" r="2.1" fill="#6effff"/><circle cx="365.4" cy="218.9" r="2.1" fill="#00ddff"/><circle cx="372.8" cy="213.3" r="2.1" fill="#00eeff"/><circle cx="367.6" cy="209.4" r="2.1" fill="#00a0ff"/><circle cx="368.0" cy="207.4" r="2.1" fill="#00ebff"/><circle cx="363.8" cy="199.2" r="2.1" fill="#0bfaff"/><circle cx="365.9" cy="235.4" r="2.1" fill="#008dff"/><circle cx="363.9" cy="239.9" r="2.1" fill="#60ffff"/><circle cx="367.6" cy="216.5" r="2.1" fill="#00ebff"/><circle cx="370.7" cy="233.4" r="2.1" fill="#28feff"/><circle cx="369.9" cy="207.8" r="2.1" fill="#00eaff"/><circle cx="372.1" cy="222.1" r="2.1" fill="#00daff"/><circle cx="362.2" cy="224.9" r="2.1" fill="#007bff"/><circle cx="364.8" cy="204.8" r="2.1" fill="#8dffff"/><circle cx="371.9" cy="219.8" r="2.1" fill="#75ffff"/><circle cx="368.7" cy="215.5" r="2.1" fill="#a3ffff"/><circle cx="363.2" cy="196.4" r="2.1" fill="#5bffff"/><circle cx="363.9" cy="200.3" r="2.1" fill="#15fbff"/><circle cx="364.3" cy="194.5" r="2.1" fill="#9affff"/><circle cx="368.6" cy="232.9" r="2.1" fill="#0087ff"/><circle cx="362.2" cy="190.7" r="2.1" fill="#00efff"/><circle cx="364.2" cy="236.4" r="2.1" fill="#00daff"/><circle cx="367.4" cy="217.6" r="2.1" fill="#00eeff"/><circle cx="368.4" cy="219.1" r="2.1" fill="#006aff"/><circle cx="370.2" cy="218.5" r="2.1" fill="#008eff"/><circle cx="365.0" cy="186.3" r="2.1" fill="#00e3ff"/><circle cx="368.0" cy="239.9" r="2.1" fill="#2cfeff"/><circle cx="368.7" cy="185.4" r="2.1" fill="#00dbff"/><circle cx="371.4" cy="206.2" r="2.1" fill="#00a9ff"/><circle cx="363.5" cy="196.7" r="2.1" fill="#8bffff"/><circle cx="371.5" cy="237.2" r="2.1" fill="#8dffff"/><circle cx="370.4" cy="222.6" r="2.1" fill="#0065ff"/><circle cx="368.9" cy="190.1" r="2.1" fill="#0cfaff"/><circle cx="367.3" cy="197.1" r="2.1" fill="#00afff"/><circle cx="369.2" cy="200.8" r="2.1" fill="#0073ff"/><circle cx="369.9" cy="207.5" r="2.1" fill="#99ffff"/><circle cx="364.6" cy="228.9" r="2.1" fill="#1efcff"/><circle cx="370.7" cy="188.5" r="2.1" fill="#8cffff"/><circle cx="370.4" cy="206.0" r="2.1" fill="#0dfaff"/><circle cx="371.3" cy="204.8" r="2.1" fill="#0056ff"/><circle cx="379.1" cy="202.5" r="2.1" fill="#08f9ff"/><circle cx="373.6" cy="227.2" r="2.1" fill="#0084ff"/><circle cx="373.6" cy="205.1" r="2.1" fill="#00c4ff"/><circle cx="378.8" cy="203.7" r="2.1" fill="#0ffaff"/><circle cx="380.2" cy="204.9" r="2.1" fill="#25fdff"/><circle cx="375.4" cy="191.0" r="2.1" fill="#00f3ff"/><circle cx="379.2" cy="206.7" r="2.1" fill="#00a0ff"/><circle cx="376.3" cy="211.1" r="2.1" fill="#009fff"/><circle cx="375.7" cy="201.3" r="2.1" fill="#00f5ff"/><circle cx="376.0" cy="232.8" r="2.1" fill="#06f9ff"/><circle cx="372.8" cy="205.0" r="2.1" fill="#0073ff"/><circle cx="375.0" cy="218.8" r="2.1" fill="#2cfeff"/><circle cx="372.2" cy="217.5" r="2.1" fill="#00eeff"/><circle cx="378.7" cy="196.2" r="2.1" fill="#00f0ff"/><circle cx="374.2" cy="227.7" r="2.1" fill="#00eeff"/><circle cx="460.0" cy="130.0" r="2.1" fill="#000000"/><circle cx="391.6" cy="133.4" r="2.1" fill="#0020ff"/><circle cx="395.0" cy="132.0" r="2.1" fill="#00f8ff"/><circle cx="430.0" cy="139.6" r="2.1" fill="#18fcff"/><circle cx="444.0" cy="143.6" r="2.1" fill="#0060ff"/><circle cx="398.0" cy="145.0" r="2.1" fill="#00008c"/><circle cx="403.0" cy="152.4" r="2.1" fill="#0020ff"/><circle cx="448.0" cy="154.4" r="2.1" fill="#00ccff"/><circle cx="401.6" cy="157.4" r="2.1" fill="#18fcff"/><circle cx="456.6" cy="159.4" r="2.1" fill="#000097"/><circle cx="424.0" cy="163.0" r="2.1" fill="#18fcff"/><circle cx="468.0" cy="165.0" r="2.1" fill="#0010ff"/><circle cx="474.4" cy="169.0" r="2.1" fill="#0040ff"/><circle cx="398.0" cy="170.4" r="2.1" fill="#0080ff"/><circle cx="438.0" cy="177.6" r="2.1" fill="#18fcff"/><circle cx="403.0" cy="176.4" r="2.1" fill="#18fcff"/><circle cx="404.4" cy="180.4" r="2.1" fill="#18fcff"/><circle cx="413.0" cy="179.0" r="2.1" fill="#0010ff"/><circle cx="389.0" cy="179.6" r="2.1" fill="#0010ff"/><circle cx="385.6" cy="147.6" r="2.1" fill="#18fcff"/><circle cx="388.0" cy="151.6" r="2.1" fill="#18fcff"/><circle cx="391.0" cy="148.0" r="2.1" fill="#18fcff"/><circle cx="390.0" cy="144.4" r="2.1" fill="#18fcff"/><circle cx="384.4" cy="137.0" r="2.1" fill="#18fcff"/><circle cx="380.0" cy="135.6" r="2.1" fill="#18fcff"/><circle cx="385.6" cy="165.0" r="2.1" fill="#18fcff"/><circle cx="381.0" cy="162.0" r="2.1" fill="#18fcff"/><circle cx="378.0" cy="159.6" r="2.1" fill="#18fcff"/><circle cx="384.0" cy="175.0" r="2.1" fill="#18fcff"/><circle cx="388.0" cy="180.0" r="2.1" fill="#0030ff"/><circle cx="408.0" cy="185.0" r="2.1" fill="#18fcff"/><circle cx="416.0" cy="184.6" r="2.1" fill="#0080ff"/><circle cx="427.0" cy="184.6" r="2.1" fill="#0090ff"/><circle cx="417.6" cy="190.0" r="2.1" fill="#0080ff"/><circle cx="443.0" cy="190.6" r="2.1" fill="#0070ff"/><circle cx="447.0" cy="193.0" r="2.1" fill="#0000c4"/><circle cx="386.4" cy="195.0" r="2.1" fill="#00b0ff"/><circle cx="380.0" cy="194.6" r="2.1" fill="#00f8ff"/><circle cx="415.6" cy="199.4" r="2.1" fill="#0080ff"/><circle cx="421.0" cy="201.4" r="2.1" fill="#0070ff"/><circle cx="412.0" cy="206.4" r="2.1" fill="#0080ff"/><circle cx="433.6" cy="206.0" r="2.1" fill="#0010ff"/><circle cx="436.4" cy="211.6" r="2.1" fill="#0060ff"/><circle cx="381.6" cy="213.0" r="2.1" fill="#0008f0"/><circle cx="382.0" cy="223.4" r="2.1" fill="#0008f0"/><circle cx="445.0" cy="230.0" r="2.1" fill="#0000c4"/><circle cx="441.0" cy="239.0" r="2.1" fill="#0010ff"/><circle cx="351.6" cy="242.0" r="2.1" fill="#0040ff"/><circle cx="355.0" cy="244.0" r="2.1" fill="#0000a8"/><circle cx="358.4" cy="241.0" r="2.1" fill="#0030ff"/><circle cx="356.0" cy="249.0" r="2.1" fill="#0090ff"/><circle cx="357.0" cy="251.0" r="2.1" fill="#00f8ff"/><circle cx="363.0" cy="247.6" r="2.1" fill="#18fcff"/><circle cx="368.0" cy="245.6" r="2.1" fill="#18fcff"/><circle cx="364.0" cy="243.0" r="2.1" fill="#18fcff"/><circle cx="371.0" cy="253.0" r="2.1" fill="#18fcff"/><circle cx="358.0" cy="260.4" r="2.1" fill="#000000"/><circle cx="440.6" cy="240.0" r="2.1" fill="#0010ff"/><circle cx="493.0" cy="78.6" r="2.1" fill="#0070ff"/><circle cx="509.6" cy="76.0" r="2.1" fill="#0080ff"/><circle cx="527.6" cy="80.4" r="2.1" fill="#000000"/><circle cx="582.6" cy="75.6" r="2.1" fill="#0010ff"/><circle cx="588.0" cy="89.4" r="2.1" fill="#0000a8"/><circle cx="594.0" cy="99.0" r="2.1" fill="#0010ff"/><circle cx="613.6" cy="99.4" r="2.1" fill="#000000"/><circle cx="503.4" cy="109.4" r="2.1" fill="#0020ff"/><circle cx="518.6" cy="105.4" r="2.1" fill="#0070ff"/><circle cx="552.0" cy="120.6" r="2.1" fill="#0020ff"/><circle cx="596.0" cy="116.6" r="2.1" fill="#0010ff"/><circle cx="528.0" cy="125.2" r="2.1" fill="#0080ff"/><circle cx="539.0" cy="125.5" r="2.1" fill="#0090ff"/><circle cx="555.4" cy="128.0" r="2.1" fill="#0010ff"/><circle cx="571.7" cy="130.3" r="2.1" fill="#000000"/><circle cx="611.0" cy="126.0" r="2.1" fill="#00a0ff"/><circle cx="605.0" cy="131.1" r="2.1" fill="#000070"/><circle cx="603.6" cy="137.9" r="2.1" fill="#0000c4"/><circle cx="604.6" cy="142.1" r="2.1" fill="#000038"/><circle cx="617.9" cy="140.7" r="2.1" fill="#000054"/><circle cx="605.0" cy="147.6" r="2.1" fill="#000054"/><circle cx="611.0" cy="148.6" r="2.1" fill="#000070"/><circle cx="624.7" cy="150.4" r="2.1" fill="#000000"/><circle cx="617.9" cy="153.1" r="2.1" fill="#0010ff"/><circle cx="488.0" cy="131.0" r="2.1" fill="#0000a8"/><circle cx="504.0" cy="145.0" r="2.1" fill="#0080ff"/><circle cx="483.0" cy="162.0" r="2.1" fill="#00daff"/><circle cx="496.6" cy="165.2" r="2.1" fill="#0010ff"/><circle cx="564.0" cy="157.2" r="2.1" fill="#000000"/><circle cx="582.0" cy="166.0" r="2.1" fill="#0010ff"/>
<rect x="344.3" y="11.3" width="306.2" height="269.7" fill="none" stroke="#3a3a3a" stroke-width="1.1"/>
<line x1="341.50" y1="281.00" x2="344.30" y2="281.00" stroke="#3a3a3a" stroke-width="1" />
<line x1="650.50" y1="281.00" x2="653.30" y2="281.00" stroke="#3a3a3a" stroke-width="1" />
<text x="338.80" y="283.60" font-size="8.6" text-anchor="end" stroke="#111" stroke-width="0.22" textLength="16.07" lengthAdjust="spacingAndGlyphs" >100</text>
<line x1="341.50" y1="251.03" x2="344.30" y2="251.03" stroke="#3a3a3a" stroke-width="1" />
<line x1="650.50" y1="251.03" x2="653.30" y2="251.03" stroke="#3a3a3a" stroke-width="1" />
<text x="338.80" y="253.63" font-size="8.6" text-anchor="end" stroke="#111" stroke-width="0.22" textLength="16.07" lengthAdjust="spacingAndGlyphs" >120</text>
<line x1="341.50" y1="221.07" x2="344.30" y2="221.07" stroke="#3a3a3a" stroke-width="1" />
<line x1="650.50" y1="221.07" x2="653.30" y2="221.07" stroke="#3a3a3a" stroke-width="1" />
<text x="338.80" y="223.67" font-size="8.6" text-anchor="end" stroke="#111" stroke-width="0.22" textLength="16.07" lengthAdjust="spacingAndGlyphs" >140</text>
<line x1="341.50" y1="191.10" x2="344.30" y2="191.10" stroke="#3a3a3a" stroke-width="1" />
<line x1="650.50" y1="191.10" x2="653.30" y2="191.10" stroke="#3a3a3a" stroke-width="1" />
<text x="338.80" y="193.70" font-size="8.6" text-anchor="end" stroke="#111" stroke-width="0.22" textLength="16.07" lengthAdjust="spacingAndGlyphs" >160</text>
<line x1="341.50" y1="161.13" x2="344.30" y2="161.13" stroke="#3a3a3a" stroke-width="1" />
<line x1="650.50" y1="161.13" x2="653.30" y2="161.13" stroke="#3a3a3a" stroke-width="1" />
<text x="338.80" y="163.73" font-size="8.6" text-anchor="end" stroke="#111" stroke-width="0.22" textLength="16.07" lengthAdjust="spacingAndGlyphs" >180</text>
<line x1="341.50" y1="131.17" x2="344.30" y2="131.17" stroke="#3a3a3a" stroke-width="1" />
<line x1="650.50" y1="131.17" x2="653.30" y2="131.17" stroke="#3a3a3a" stroke-width="1" />
<text x="338.80" y="133.77" font-size="8.6" text-anchor="end" stroke="#111" stroke-width="0.22" textLength="16.07" lengthAdjust="spacingAndGlyphs" >200</text>
<line x1="341.50" y1="101.20" x2="344.30" y2="101.20" stroke="#3a3a3a" stroke-width="1" />
<line x1="650.50" y1="101.20" x2="653.30" y2="101.20" stroke="#3a3a3a" stroke-width="1" />
<text x="338.80" y="103.80" font-size="8.6" text-anchor="end" stroke="#111" stroke-width="0.22" textLength="16.07" lengthAdjust="spacingAndGlyphs" >220</text>
<line x1="341.50" y1="71.23" x2="344.30" y2="71.23" stroke="#3a3a3a" stroke-width="1" />
<line x1="650.50" y1="71.23" x2="653.30" y2="71.23" stroke="#3a3a3a" stroke-width="1" />
<text x="338.80" y="73.83" font-size="8.6" text-anchor="end" stroke="#111" stroke-width="0.22" textLength="16.07" lengthAdjust="spacingAndGlyphs" >240</text>
<line x1="341.50" y1="41.27" x2="344.30" y2="41.27" stroke="#3a3a3a" stroke-width="1" />
<line x1="650.50" y1="41.27" x2="653.30" y2="41.27" stroke="#3a3a3a" stroke-width="1" />
<text x="338.80" y="43.87" font-size="8.6" text-anchor="end" stroke="#111" stroke-width="0.22" textLength="16.07" lengthAdjust="spacingAndGlyphs" >260</text>
<line x1="341.50" y1="11.30" x2="344.30" y2="11.30" stroke="#3a3a3a" stroke-width="1" />
<line x1="650.50" y1="11.30" x2="653.30" y2="11.30" stroke="#3a3a3a" stroke-width="1" />
<text x="338.80" y="13.90" font-size="8.6" text-anchor="end" stroke="#111" stroke-width="0.22" textLength="16.07" lengthAdjust="spacingAndGlyphs" >280</text>
<line x1="344.30" y1="281.00" x2="344.30" y2="283.80" stroke="#3a3a3a" stroke-width="1" />
<line x1="344.30" y1="11.30" x2="344.30" y2="8.50" stroke="#3a3a3a" stroke-width="1" />
<text x="344.30" y="294.00" font-size="8.6" text-anchor="middle" stroke="#111" stroke-width="0.22" textLength="5.36" lengthAdjust="spacingAndGlyphs" >0</text>
<line x1="420.85" y1="281.00" x2="420.85" y2="283.80" stroke="#3a3a3a" stroke-width="1" />
<line x1="420.85" y1="11.30" x2="420.85" y2="8.50" stroke="#3a3a3a" stroke-width="1" />
<text x="420.85" y="294.00" font-size="8.6" text-anchor="middle" stroke="#111" stroke-width="0.22" textLength="13.64" lengthAdjust="spacingAndGlyphs" >0.5</text>
<line x1="497.40" y1="281.00" x2="497.40" y2="283.80" stroke="#3a3a3a" stroke-width="1" />
<line x1="497.40" y1="11.30" x2="497.40" y2="8.50" stroke="#3a3a3a" stroke-width="1" />
<text x="497.40" y="294.00" font-size="8.6" text-anchor="middle" stroke="#111" stroke-width="0.22" textLength="5.36" lengthAdjust="spacingAndGlyphs" >1</text>
<line x1="573.95" y1="281.00" x2="573.95" y2="283.80" stroke="#3a3a3a" stroke-width="1" />
<line x1="573.95" y1="11.30" x2="573.95" y2="8.50" stroke="#3a3a3a" stroke-width="1" />
<text x="573.95" y="294.00" font-size="8.6" text-anchor="middle" stroke="#111" stroke-width="0.22" textLength="13.64" lengthAdjust="spacingAndGlyphs" >1.5</text>
<line x1="650.50" y1="281.00" x2="650.50" y2="283.80" stroke="#3a3a3a" stroke-width="1" />
<line x1="650.50" y1="11.30" x2="650.50" y2="8.50" stroke="#3a3a3a" stroke-width="1" />
<text x="650.50" y="294.00" font-size="8.6" text-anchor="middle" stroke="#111" stroke-width="0.22" textLength="5.36" lengthAdjust="spacingAndGlyphs" >2</text>
<text x="351.00" y="7.20" font-size="8.2" text-anchor="middle" stroke="#111" stroke-width="0.22" textLength="12.36" lengthAdjust="spacingAndGlyphs" >(c)</text>
<text x="316.00" y="146.60" font-size="9.2" text-anchor="middle" stroke="#111" stroke-width="0.22" textLength="80.3" lengthAdjust="spacingAndGlyphs" transform="rotate(-90 316.00 146.60)" >Temperature (K)</text>
<text x="452" y="306" font-size="8.6" stroke="#111" stroke-width="0.22" textLength="84.4" lengthAdjust="spacingAndGlyphs">Dust optical depth,</text>
<path d="M540.9,301.4 C541.4,300.1 542.3,299.8 543.5,299.8 L547.1,299.6 M545.0,299.9 L543.5,305.4" fill="none" stroke="#1a1a1a" stroke-width="1.15" stroke-linecap="round"/>
<defs><linearGradient id="cb" x1="0" y1="1" x2="0" y2="0"><stop offset="0" stop-color="#ffffff"/><stop offset="0.35" stop-color="#00ffff"/><stop offset="0.5" stop-color="#00b8ff"/><stop offset="0.7" stop-color="#0038ff"/><stop offset="0.8" stop-color="#0000e8"/><stop offset="1" stop-color="#000000"/></linearGradient></defs>
<rect x="666.8" y="12.2" width="11.200000000000045" height="265.6" fill="url(#cb)" stroke="#d8d8d8" stroke-width="0.6"/>
<line x1="675.80" y1="277.80" x2="678.00" y2="277.80" stroke="#999" stroke-width="0.6" />
<text x="680.50" y="280.40" font-size="8.6" text-anchor="start" stroke="#111" stroke-width="0.22" textLength="5.36" lengthAdjust="spacingAndGlyphs" >0</text>
<line x1="675.80" y1="251.24" x2="678.00" y2="251.24" stroke="#999" stroke-width="0.6" />
<text x="680.50" y="253.84" font-size="8.6" text-anchor="start" stroke="#111" stroke-width="0.22" textLength="5.36" lengthAdjust="spacingAndGlyphs" >2</text>
<line x1="675.80" y1="224.68" x2="678.00" y2="224.68" stroke="#999" stroke-width="0.6" />
<text x="680.50" y="227.28" font-size="8.6" text-anchor="start" stroke="#111" stroke-width="0.22" textLength="5.36" lengthAdjust="spacingAndGlyphs" >4</text>
<line x1="675.80" y1="198.12" x2="678.00" y2="198.12" stroke="#999" stroke-width="0.6" />
<text x="680.50" y="200.72" font-size="8.6" text-anchor="start" stroke="#111" stroke-width="0.22" textLength="5.36" lengthAdjust="spacingAndGlyphs" >6</text>
<line x1="675.80" y1="171.56" x2="678.00" y2="171.56" stroke="#999" stroke-width="0.6" />
<text x="680.50" y="174.16" font-size="8.6" text-anchor="start" stroke="#111" stroke-width="0.22" textLength="5.36" lengthAdjust="spacingAndGlyphs" >8</text>
<line x1="675.80" y1="145.00" x2="678.00" y2="145.00" stroke="#999" stroke-width="0.6" />
<text x="680.50" y="147.60" font-size="8.6" text-anchor="start" stroke="#111" stroke-width="0.22" textLength="10.72" lengthAdjust="spacingAndGlyphs" >10</text>
<line x1="675.80" y1="118.44" x2="678.00" y2="118.44" stroke="#999" stroke-width="0.6" />
<text x="680.50" y="121.04" font-size="8.6" text-anchor="start" stroke="#111" stroke-width="0.22" textLength="10.72" lengthAdjust="spacingAndGlyphs" >12</text>
<line x1="675.80" y1="91.88" x2="678.00" y2="91.88" stroke="#999" stroke-width="0.6" />
<text x="680.50" y="94.48" font-size="8.6" text-anchor="start" stroke="#111" stroke-width="0.22" textLength="10.72" lengthAdjust="spacingAndGlyphs" >14</text>
<line x1="675.80" y1="65.32" x2="678.00" y2="65.32" stroke="#999" stroke-width="0.6" />
<text x="680.50" y="67.92" font-size="8.6" text-anchor="start" stroke="#111" stroke-width="0.22" textLength="10.72" lengthAdjust="spacingAndGlyphs" >16</text>
<line x1="675.80" y1="38.76" x2="678.00" y2="38.76" stroke="#999" stroke-width="0.6" />
<text x="680.50" y="41.36" font-size="8.6" text-anchor="start" stroke="#111" stroke-width="0.22" textLength="10.72" lengthAdjust="spacingAndGlyphs" >18</text>
<line x1="675.80" y1="12.20" x2="678.00" y2="12.20" stroke="#999" stroke-width="0.6" />
<text x="680.50" y="14.80" font-size="8.6" text-anchor="start" stroke="#111" stroke-width="0.22" textLength="10.72" lengthAdjust="spacingAndGlyphs" >20</text>
<text x="698.00" y="145.50" font-size="7.6" text-anchor="middle" stroke="#111" stroke-width="0.22" textLength="111.03" lengthAdjust="spacingAndGlyphs" transform="rotate(-90 698.00 145.50)" >Gravity wave amplitude (%)</text>
</g></svg></body></html>
